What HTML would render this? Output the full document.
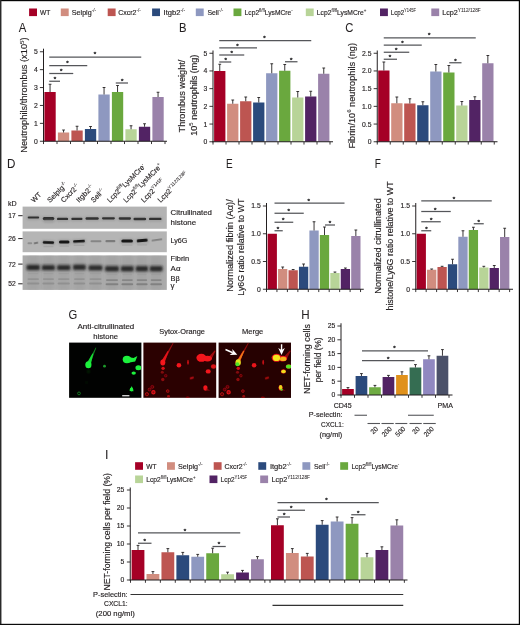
<!DOCTYPE html>
<html lang="en"><head><meta charset="utf-8"><title>Figure</title>
<style>html,body{margin:0;padding:0;background:#fff}svg{display:block}text{font-family:"Liberation Sans", sans-serif;white-space:pre}</style>
</head><body>
<svg width="520" height="625" viewBox="0 0 520 625">
<defs>
<filter id="b1" x="-100%" y="-300%" width="300%" height="700%"><feGaussianBlur stdDeviation="0.9"/></filter>
<filter id="b2" x="-100%" y="-300%" width="300%" height="700%"><feGaussianBlur stdDeviation="1.6"/></filter>
<filter id="b05" x="-100%" y="-300%" width="300%" height="700%"><feGaussianBlur stdDeviation="0.55"/></filter>
<filter id="b3" x="-100%" y="-300%" width="300%" height="700%"><feGaussianBlur stdDeviation="2.6"/></filter>
</defs>
<rect x="0" y="0" width="520" height="625" fill="#ffffff"/>
<rect x="29.10" y="8.50" width="7.90" height="7.60" fill="#a50026"/>
<text transform="translate(39.90 15.00) scale(0.974 1)" font-size="6.80" text-anchor="start" fill="#231f20" stroke="#231f20" stroke-width="0.15">WT</text>
<rect x="60.80" y="8.50" width="7.90" height="7.60" fill="#d18d7f"/>
<text transform="translate(71.80 15.00) scale(1.054 1)" font-size="6.80" text-anchor="start" fill="#231f20" stroke="#231f20" stroke-width="0.15">Selplg<tspan dy="-2.86" font-size="4.49" stroke-width="0.05">-/-</tspan></text>
<rect x="107.70" y="8.50" width="7.90" height="7.60" fill="#bd5551"/>
<text transform="translate(118.20 15.00) scale(1.028 1)" font-size="6.80" text-anchor="start" fill="#231f20" stroke="#231f20" stroke-width="0.15">Cxcr2<tspan dy="-2.86" font-size="4.49" stroke-width="0.05">-/-</tspan></text>
<rect x="152.10" y="8.50" width="7.90" height="7.60" fill="#2b4a7c"/>
<text transform="translate(163.60 15.00) scale(1.116 1)" font-size="6.80" text-anchor="start" fill="#231f20" stroke="#231f20" stroke-width="0.15">Itgb2<tspan dy="-2.86" font-size="4.49" stroke-width="0.05">-/-</tspan></text>
<rect x="195.80" y="8.50" width="7.90" height="7.60" fill="#8e98c0"/>
<text transform="translate(207.40 15.00) scale(1.014 1)" font-size="6.80" text-anchor="start" fill="#231f20" stroke="#231f20" stroke-width="0.15">Sell<tspan dy="-2.86" font-size="4.49" stroke-width="0.05">-/-</tspan></text>
<rect x="233.50" y="8.50" width="7.90" height="7.60" fill="#6aa83e"/>
<text transform="translate(244.60 15.00) scale(0.985 1)" font-size="6.80" text-anchor="start" fill="#231f20" stroke="#231f20" stroke-width="0.15">Lcp2<tspan dy="-2.86" font-size="4.49" stroke-width="0.05">fl/fl</tspan><tspan dy="2.86">LysMCre</tspan><tspan dy="-2.86" font-size="4.49" stroke-width="0.05">-</tspan></text>
<rect x="305.80" y="8.50" width="7.90" height="7.60" fill="#b8d498"/>
<text transform="translate(316.80 15.00) scale(0.993 1)" font-size="6.80" text-anchor="start" fill="#231f20" stroke="#231f20" stroke-width="0.15">Lcp2<tspan dy="-2.86" font-size="4.49" stroke-width="0.05">fl/fl</tspan><tspan dy="2.86">LysMCre</tspan><tspan dy="-2.86" font-size="4.49" stroke-width="0.05">+</tspan></text>
<rect x="380.00" y="8.50" width="7.90" height="7.60" fill="#522364"/>
<text transform="translate(390.70 15.00) scale(0.908 1)" font-size="6.80" text-anchor="start" fill="#231f20" stroke="#231f20" stroke-width="0.15">Lcp2<tspan dy="-2.86" font-size="4.49" stroke-width="0.05">Y145F</tspan></text>
<rect x="431.30" y="8.50" width="7.90" height="7.60" fill="#9a82aa"/>
<text transform="translate(442.30 15.00) scale(1.056 1)" font-size="6.80" text-anchor="start" fill="#231f20" stroke="#231f20" stroke-width="0.15">Lcp2<tspan dy="-2.86" font-size="4.49" stroke-width="0.05">Y112/128F</tspan></text>
<text transform="translate(18.70 32.10) scale(0.910 1)" font-size="12.50" text-anchor="start" fill="#231f20" stroke="#231f20" stroke-width="0.05">A</text>
<text transform="translate(178.90 32.10) scale(0.900 1)" font-size="12.50" text-anchor="start" fill="#231f20" stroke="#231f20" stroke-width="0.05">B</text>
<text transform="translate(345.24 32.20) scale(0.900 1)" font-size="12.50" text-anchor="start" fill="#231f20" stroke="#231f20" stroke-width="0.05">C</text>
<text transform="translate(6.97 168.20) scale(0.930 1)" font-size="12.50" text-anchor="start" fill="#231f20" stroke="#231f20" stroke-width="0.05">D</text>
<text transform="translate(226.10 168.20) scale(0.800 1)" font-size="12.50" text-anchor="start" fill="#231f20" stroke="#231f20" stroke-width="0.05">E</text>
<text transform="translate(374.80 168.20) scale(0.800 1)" font-size="12.50" text-anchor="start" fill="#231f20" stroke="#231f20" stroke-width="0.05">F</text>
<text transform="translate(68.54 319.10) scale(0.900 1)" font-size="12.50" text-anchor="start" fill="#231f20" stroke="#231f20" stroke-width="0.05">G</text>
<text transform="translate(301.37 319.10) scale(0.930 1)" font-size="12.50" text-anchor="start" fill="#231f20" stroke="#231f20" stroke-width="0.05">H</text>
<text transform="translate(104.88 459.00)" font-size="12.50" text-anchor="start" fill="#231f20" stroke="#231f20" stroke-width="0.05">I</text>
<rect x="44.40" y="92.00" width="11.30" height="49.25" fill="#a50026"/>
<line x1="50.05" y1="92.00" x2="50.05" y2="84.25" stroke="#231f20" stroke-width="0.90"/>
<line x1="48.65" y1="84.25" x2="51.45" y2="84.25" stroke="#231f20" stroke-width="0.90"/>
<rect x="57.90" y="132.50" width="11.30" height="8.75" fill="#d18d7f"/>
<line x1="63.55" y1="132.50" x2="63.55" y2="130.00" stroke="#231f20" stroke-width="0.90"/>
<line x1="62.15" y1="130.00" x2="64.95" y2="130.00" stroke="#231f20" stroke-width="0.90"/>
<rect x="71.40" y="130.50" width="11.30" height="10.75" fill="#bd5551"/>
<line x1="77.05" y1="130.50" x2="77.05" y2="126.25" stroke="#231f20" stroke-width="0.90"/>
<line x1="75.65" y1="126.25" x2="78.45" y2="126.25" stroke="#231f20" stroke-width="0.90"/>
<rect x="84.90" y="129.00" width="11.30" height="12.25" fill="#2b4a7c"/>
<line x1="90.55" y1="129.00" x2="90.55" y2="126.50" stroke="#231f20" stroke-width="0.90"/>
<line x1="89.15" y1="126.50" x2="91.95" y2="126.50" stroke="#231f20" stroke-width="0.90"/>
<rect x="98.40" y="94.50" width="11.30" height="46.75" fill="#8e98c0"/>
<line x1="104.05" y1="94.50" x2="104.05" y2="87.50" stroke="#231f20" stroke-width="0.90"/>
<line x1="102.65" y1="87.50" x2="105.45" y2="87.50" stroke="#231f20" stroke-width="0.90"/>
<rect x="111.90" y="92.00" width="11.30" height="49.25" fill="#6aa83e"/>
<line x1="117.55" y1="92.00" x2="117.55" y2="85.50" stroke="#231f20" stroke-width="0.90"/>
<line x1="116.15" y1="85.50" x2="118.95" y2="85.50" stroke="#231f20" stroke-width="0.90"/>
<rect x="125.40" y="129.25" width="11.30" height="12.00" fill="#b8d498"/>
<line x1="131.05" y1="129.25" x2="131.05" y2="125.75" stroke="#231f20" stroke-width="0.90"/>
<line x1="129.65" y1="125.75" x2="132.45" y2="125.75" stroke="#231f20" stroke-width="0.90"/>
<rect x="138.90" y="126.75" width="11.30" height="14.50" fill="#522364"/>
<line x1="144.55" y1="126.75" x2="144.55" y2="123.75" stroke="#231f20" stroke-width="0.90"/>
<line x1="143.15" y1="123.75" x2="145.95" y2="123.75" stroke="#231f20" stroke-width="0.90"/>
<rect x="152.40" y="97.00" width="11.30" height="44.25" fill="#9a82aa"/>
<line x1="158.05" y1="97.00" x2="158.05" y2="92.25" stroke="#231f20" stroke-width="0.90"/>
<line x1="156.65" y1="92.25" x2="159.45" y2="92.25" stroke="#231f20" stroke-width="0.90"/>
<line x1="43.50" y1="48.70" x2="43.50" y2="141.75" stroke="#231f20" stroke-width="1.00"/>
<line x1="43.00" y1="141.25" x2="167.00" y2="141.25" stroke="#231f20" stroke-width="1.00"/>
<line x1="39.90" y1="141.25" x2="43.50" y2="141.25" stroke="#231f20" stroke-width="0.90"/>
<text transform="translate(37.70 143.70)" font-size="6.80" text-anchor="end" fill="#231f20" stroke="#231f20" stroke-width="0.15">0</text>
<line x1="39.90" y1="123.35" x2="43.50" y2="123.35" stroke="#231f20" stroke-width="0.90"/>
<text transform="translate(37.70 125.80)" font-size="6.80" text-anchor="end" fill="#231f20" stroke="#231f20" stroke-width="0.15">1</text>
<line x1="39.90" y1="105.45" x2="43.50" y2="105.45" stroke="#231f20" stroke-width="0.90"/>
<text transform="translate(37.70 107.90)" font-size="6.80" text-anchor="end" fill="#231f20" stroke="#231f20" stroke-width="0.15">2</text>
<line x1="39.90" y1="87.55" x2="43.50" y2="87.55" stroke="#231f20" stroke-width="0.90"/>
<text transform="translate(37.70 90.00)" font-size="6.80" text-anchor="end" fill="#231f20" stroke="#231f20" stroke-width="0.15">3</text>
<line x1="39.90" y1="69.65" x2="43.50" y2="69.65" stroke="#231f20" stroke-width="0.90"/>
<text transform="translate(37.70 72.10)" font-size="6.80" text-anchor="end" fill="#231f20" stroke="#231f20" stroke-width="0.15">4</text>
<line x1="39.90" y1="51.75" x2="43.50" y2="51.75" stroke="#231f20" stroke-width="0.90"/>
<text transform="translate(37.70 54.20)" font-size="6.80" text-anchor="end" fill="#231f20" stroke="#231f20" stroke-width="0.15">5</text>
<line x1="43.50" y1="141.25" x2="43.50" y2="144.05" stroke="#231f20" stroke-width="0.90"/>
<line x1="57.00" y1="141.25" x2="57.00" y2="144.05" stroke="#231f20" stroke-width="0.90"/>
<line x1="70.50" y1="141.25" x2="70.50" y2="144.05" stroke="#231f20" stroke-width="0.90"/>
<line x1="84.00" y1="141.25" x2="84.00" y2="144.05" stroke="#231f20" stroke-width="0.90"/>
<line x1="97.50" y1="141.25" x2="97.50" y2="144.05" stroke="#231f20" stroke-width="0.90"/>
<line x1="111.00" y1="141.25" x2="111.00" y2="144.05" stroke="#231f20" stroke-width="0.90"/>
<line x1="124.50" y1="141.25" x2="124.50" y2="144.05" stroke="#231f20" stroke-width="0.90"/>
<line x1="138.00" y1="141.25" x2="138.00" y2="144.05" stroke="#231f20" stroke-width="0.90"/>
<line x1="151.50" y1="141.25" x2="151.50" y2="144.05" stroke="#231f20" stroke-width="0.90"/>
<line x1="165.00" y1="141.25" x2="165.00" y2="144.05" stroke="#231f20" stroke-width="0.90"/>
<line x1="49.25" y1="57.00" x2="141.25" y2="57.00" stroke="#55565a" stroke-width="1.25"/>
<text transform="translate(95.00 56.36)" font-size="6.20" text-anchor="middle" fill="#3a3a3c" stroke="#3a3a3c" stroke-width="0.55">*</text>
<line x1="49.25" y1="65.50" x2="87.25" y2="65.50" stroke="#55565a" stroke-width="1.25"/>
<text transform="translate(67.50 65.16)" font-size="6.20" text-anchor="middle" fill="#3a3a3c" stroke="#3a3a3c" stroke-width="0.55">*</text>
<line x1="49.25" y1="73.50" x2="73.25" y2="73.50" stroke="#55565a" stroke-width="1.25"/>
<text transform="translate(61.25 73.16)" font-size="6.20" text-anchor="middle" fill="#3a3a3c" stroke="#3a3a3c" stroke-width="0.55">*</text>
<line x1="49.25" y1="81.25" x2="60.00" y2="81.25" stroke="#55565a" stroke-width="1.25"/>
<text transform="translate(55.00 80.86)" font-size="6.20" text-anchor="middle" fill="#3a3a3c" stroke="#3a3a3c" stroke-width="0.55">*</text>
<line x1="115.75" y1="83.00" x2="128.00" y2="83.00" stroke="#55565a" stroke-width="1.25"/>
<text transform="translate(122.25 82.66)" font-size="6.20" text-anchor="middle" fill="#3a3a3c" stroke="#3a3a3c" stroke-width="0.55">*</text>
<text transform="translate(27.20 95.10) rotate(-90) scale(1.134 1)" font-size="8.20" text-anchor="middle" fill="#231f20" stroke="#231f20" stroke-width="0.15">Neutrophils/thrombus (x10<tspan dy="-3.44" font-size="5.41" stroke-width="0.05">5</tspan><tspan dy="3.44">)</tspan></text>
<rect x="214.10" y="71.00" width="11.30" height="70.75" fill="#a50026"/>
<line x1="219.75" y1="71.00" x2="219.75" y2="64.25" stroke="#231f20" stroke-width="0.90"/>
<line x1="218.35" y1="64.25" x2="221.15" y2="64.25" stroke="#231f20" stroke-width="0.90"/>
<rect x="227.10" y="103.75" width="11.30" height="38.00" fill="#d18d7f"/>
<line x1="232.75" y1="103.75" x2="232.75" y2="100.00" stroke="#231f20" stroke-width="0.90"/>
<line x1="231.35" y1="100.00" x2="234.15" y2="100.00" stroke="#231f20" stroke-width="0.90"/>
<rect x="240.10" y="101.25" width="11.30" height="40.50" fill="#bd5551"/>
<line x1="245.75" y1="101.25" x2="245.75" y2="97.00" stroke="#231f20" stroke-width="0.90"/>
<line x1="244.35" y1="97.00" x2="247.15" y2="97.00" stroke="#231f20" stroke-width="0.90"/>
<rect x="253.10" y="102.50" width="11.30" height="39.25" fill="#2b4a7c"/>
<line x1="258.75" y1="102.50" x2="258.75" y2="97.50" stroke="#231f20" stroke-width="0.90"/>
<line x1="257.35" y1="97.50" x2="260.15" y2="97.50" stroke="#231f20" stroke-width="0.90"/>
<rect x="266.10" y="73.25" width="11.30" height="68.50" fill="#8e98c0"/>
<line x1="271.75" y1="73.25" x2="271.75" y2="63.75" stroke="#231f20" stroke-width="0.90"/>
<line x1="270.35" y1="63.75" x2="273.15" y2="63.75" stroke="#231f20" stroke-width="0.90"/>
<rect x="279.10" y="70.75" width="11.30" height="71.00" fill="#6aa83e"/>
<line x1="284.75" y1="70.75" x2="284.75" y2="64.50" stroke="#231f20" stroke-width="0.90"/>
<line x1="283.35" y1="64.50" x2="286.15" y2="64.50" stroke="#231f20" stroke-width="0.90"/>
<rect x="292.10" y="97.50" width="11.30" height="44.25" fill="#b8d498"/>
<line x1="297.75" y1="97.50" x2="297.75" y2="91.50" stroke="#231f20" stroke-width="0.90"/>
<line x1="296.35" y1="91.50" x2="299.15" y2="91.50" stroke="#231f20" stroke-width="0.90"/>
<rect x="305.10" y="96.50" width="11.30" height="45.25" fill="#522364"/>
<line x1="310.75" y1="96.50" x2="310.75" y2="91.25" stroke="#231f20" stroke-width="0.90"/>
<line x1="309.35" y1="91.25" x2="312.15" y2="91.25" stroke="#231f20" stroke-width="0.90"/>
<rect x="318.10" y="73.75" width="11.30" height="68.00" fill="#9a82aa"/>
<line x1="323.75" y1="73.75" x2="323.75" y2="68.00" stroke="#231f20" stroke-width="0.90"/>
<line x1="322.35" y1="68.00" x2="325.15" y2="68.00" stroke="#231f20" stroke-width="0.90"/>
<line x1="213.00" y1="50.50" x2="213.00" y2="142.25" stroke="#231f20" stroke-width="1.00"/>
<line x1="212.50" y1="141.75" x2="333.00" y2="141.75" stroke="#231f20" stroke-width="1.00"/>
<line x1="209.40" y1="141.75" x2="213.00" y2="141.75" stroke="#231f20" stroke-width="0.90"/>
<text transform="translate(207.20 144.20)" font-size="6.80" text-anchor="end" fill="#231f20" stroke="#231f20" stroke-width="0.15">0</text>
<line x1="209.40" y1="124.05" x2="213.00" y2="124.05" stroke="#231f20" stroke-width="0.90"/>
<text transform="translate(207.20 126.50)" font-size="6.80" text-anchor="end" fill="#231f20" stroke="#231f20" stroke-width="0.15">1</text>
<line x1="209.40" y1="106.35" x2="213.00" y2="106.35" stroke="#231f20" stroke-width="0.90"/>
<text transform="translate(207.20 108.80)" font-size="6.80" text-anchor="end" fill="#231f20" stroke="#231f20" stroke-width="0.15">2</text>
<line x1="209.40" y1="88.65" x2="213.00" y2="88.65" stroke="#231f20" stroke-width="0.90"/>
<text transform="translate(207.20 91.10)" font-size="6.80" text-anchor="end" fill="#231f20" stroke="#231f20" stroke-width="0.15">3</text>
<line x1="209.40" y1="70.95" x2="213.00" y2="70.95" stroke="#231f20" stroke-width="0.90"/>
<text transform="translate(207.20 73.40)" font-size="6.80" text-anchor="end" fill="#231f20" stroke="#231f20" stroke-width="0.15">4</text>
<line x1="209.40" y1="53.25" x2="213.00" y2="53.25" stroke="#231f20" stroke-width="0.90"/>
<text transform="translate(207.20 55.70)" font-size="6.80" text-anchor="end" fill="#231f20" stroke="#231f20" stroke-width="0.15">5</text>
<line x1="213.00" y1="141.75" x2="213.00" y2="144.55" stroke="#231f20" stroke-width="0.90"/>
<line x1="226.00" y1="141.75" x2="226.00" y2="144.55" stroke="#231f20" stroke-width="0.90"/>
<line x1="239.00" y1="141.75" x2="239.00" y2="144.55" stroke="#231f20" stroke-width="0.90"/>
<line x1="252.00" y1="141.75" x2="252.00" y2="144.55" stroke="#231f20" stroke-width="0.90"/>
<line x1="265.00" y1="141.75" x2="265.00" y2="144.55" stroke="#231f20" stroke-width="0.90"/>
<line x1="278.00" y1="141.75" x2="278.00" y2="144.55" stroke="#231f20" stroke-width="0.90"/>
<line x1="291.00" y1="141.75" x2="291.00" y2="144.55" stroke="#231f20" stroke-width="0.90"/>
<line x1="304.00" y1="141.75" x2="304.00" y2="144.55" stroke="#231f20" stroke-width="0.90"/>
<line x1="317.00" y1="141.75" x2="317.00" y2="144.55" stroke="#231f20" stroke-width="0.90"/>
<line x1="330.00" y1="141.75" x2="330.00" y2="144.55" stroke="#231f20" stroke-width="0.90"/>
<line x1="219.25" y1="40.50" x2="311.25" y2="40.50" stroke="#55565a" stroke-width="1.25"/>
<text transform="translate(264.50 40.16)" font-size="6.20" text-anchor="middle" fill="#3a3a3c" stroke="#3a3a3c" stroke-width="0.55">*</text>
<line x1="219.25" y1="47.75" x2="257.00" y2="47.75" stroke="#55565a" stroke-width="1.25"/>
<text transform="translate(237.50 47.66)" font-size="6.20" text-anchor="middle" fill="#3a3a3c" stroke="#3a3a3c" stroke-width="0.55">*</text>
<line x1="219.25" y1="55.00" x2="244.25" y2="55.00" stroke="#55565a" stroke-width="1.25"/>
<text transform="translate(231.75 54.91)" font-size="6.20" text-anchor="middle" fill="#3a3a3c" stroke="#3a3a3c" stroke-width="0.55">*</text>
<line x1="219.25" y1="62.00" x2="231.25" y2="62.00" stroke="#55565a" stroke-width="1.25"/>
<text transform="translate(225.75 61.91)" font-size="6.20" text-anchor="middle" fill="#3a3a3c" stroke="#3a3a3c" stroke-width="0.55">*</text>
<line x1="285.00" y1="61.75" x2="297.50" y2="61.75" stroke="#55565a" stroke-width="1.25"/>
<text transform="translate(291.25 61.66)" font-size="6.20" text-anchor="middle" fill="#3a3a3c" stroke="#3a3a3c" stroke-width="0.55">*</text>
<text transform="translate(185.00 96.05) rotate(-90) scale(1.119 1)" font-size="8.20" text-anchor="middle" fill="#231f20" stroke="#231f20" stroke-width="0.15">Thrombus weight/</text>
<text transform="translate(196.50 95.20) rotate(-90) scale(1.102 1)" font-size="8.20" text-anchor="middle" fill="#231f20" stroke="#231f20" stroke-width="0.15">10<tspan dy="-3.44" font-size="5.41" stroke-width="0.05">5</tspan><tspan dy="3.44"> neutrophils (mg)</tspan></text>
<rect x="378.20" y="70.50" width="11.30" height="71.25" fill="#a50026"/>
<line x1="383.85" y1="70.50" x2="383.85" y2="62.00" stroke="#231f20" stroke-width="0.90"/>
<line x1="382.45" y1="62.00" x2="385.25" y2="62.00" stroke="#231f20" stroke-width="0.90"/>
<rect x="391.20" y="103.25" width="11.30" height="38.50" fill="#d18d7f"/>
<line x1="396.85" y1="103.25" x2="396.85" y2="97.00" stroke="#231f20" stroke-width="0.90"/>
<line x1="395.45" y1="97.00" x2="398.25" y2="97.00" stroke="#231f20" stroke-width="0.90"/>
<rect x="404.20" y="103.50" width="11.30" height="38.25" fill="#bd5551"/>
<line x1="409.85" y1="103.50" x2="409.85" y2="98.75" stroke="#231f20" stroke-width="0.90"/>
<line x1="408.45" y1="98.75" x2="411.25" y2="98.75" stroke="#231f20" stroke-width="0.90"/>
<rect x="417.20" y="105.25" width="11.30" height="36.50" fill="#2b4a7c"/>
<line x1="422.85" y1="105.25" x2="422.85" y2="101.75" stroke="#231f20" stroke-width="0.90"/>
<line x1="421.45" y1="101.75" x2="424.25" y2="101.75" stroke="#231f20" stroke-width="0.90"/>
<rect x="430.20" y="71.50" width="11.30" height="70.25" fill="#8e98c0"/>
<line x1="435.85" y1="71.50" x2="435.85" y2="64.50" stroke="#231f20" stroke-width="0.90"/>
<line x1="434.45" y1="64.50" x2="437.25" y2="64.50" stroke="#231f20" stroke-width="0.90"/>
<rect x="443.20" y="72.50" width="11.30" height="69.25" fill="#6aa83e"/>
<line x1="448.85" y1="72.50" x2="448.85" y2="65.50" stroke="#231f20" stroke-width="0.90"/>
<line x1="447.45" y1="65.50" x2="450.25" y2="65.50" stroke="#231f20" stroke-width="0.90"/>
<rect x="456.20" y="105.50" width="11.30" height="36.25" fill="#b8d498"/>
<line x1="461.85" y1="105.50" x2="461.85" y2="101.50" stroke="#231f20" stroke-width="0.90"/>
<line x1="460.45" y1="101.50" x2="463.25" y2="101.50" stroke="#231f20" stroke-width="0.90"/>
<rect x="469.20" y="100.00" width="11.30" height="41.75" fill="#522364"/>
<line x1="474.85" y1="100.00" x2="474.85" y2="96.75" stroke="#231f20" stroke-width="0.90"/>
<line x1="473.45" y1="96.75" x2="476.25" y2="96.75" stroke="#231f20" stroke-width="0.90"/>
<rect x="482.20" y="63.25" width="11.30" height="78.50" fill="#9a82aa"/>
<line x1="487.85" y1="63.25" x2="487.85" y2="55.50" stroke="#231f20" stroke-width="0.90"/>
<line x1="486.45" y1="55.50" x2="489.25" y2="55.50" stroke="#231f20" stroke-width="0.90"/>
<line x1="377.25" y1="50.50" x2="377.25" y2="142.25" stroke="#231f20" stroke-width="1.00"/>
<line x1="376.75" y1="141.75" x2="497.50" y2="141.75" stroke="#231f20" stroke-width="1.00"/>
<line x1="373.65" y1="141.75" x2="377.25" y2="141.75" stroke="#231f20" stroke-width="0.90"/>
<text transform="translate(371.45 144.20)" font-size="6.80" text-anchor="end" fill="#231f20" stroke="#231f20" stroke-width="0.15">0</text>
<line x1="373.65" y1="124.05" x2="377.25" y2="124.05" stroke="#231f20" stroke-width="0.90"/>
<text transform="translate(371.45 126.50)" font-size="6.80" text-anchor="end" fill="#231f20" stroke="#231f20" stroke-width="0.15">0.5</text>
<line x1="373.65" y1="106.35" x2="377.25" y2="106.35" stroke="#231f20" stroke-width="0.90"/>
<text transform="translate(371.45 108.80)" font-size="6.80" text-anchor="end" fill="#231f20" stroke="#231f20" stroke-width="0.15">1.0</text>
<line x1="373.65" y1="88.65" x2="377.25" y2="88.65" stroke="#231f20" stroke-width="0.90"/>
<text transform="translate(371.45 91.10)" font-size="6.80" text-anchor="end" fill="#231f20" stroke="#231f20" stroke-width="0.15">1.5</text>
<line x1="373.65" y1="70.95" x2="377.25" y2="70.95" stroke="#231f20" stroke-width="0.90"/>
<text transform="translate(371.45 73.40)" font-size="6.80" text-anchor="end" fill="#231f20" stroke="#231f20" stroke-width="0.15">2.0</text>
<line x1="373.65" y1="53.25" x2="377.25" y2="53.25" stroke="#231f20" stroke-width="0.90"/>
<text transform="translate(371.45 55.70)" font-size="6.80" text-anchor="end" fill="#231f20" stroke="#231f20" stroke-width="0.15">2.5</text>
<line x1="377.25" y1="141.75" x2="377.25" y2="144.55" stroke="#231f20" stroke-width="0.90"/>
<line x1="390.25" y1="141.75" x2="390.25" y2="144.55" stroke="#231f20" stroke-width="0.90"/>
<line x1="403.25" y1="141.75" x2="403.25" y2="144.55" stroke="#231f20" stroke-width="0.90"/>
<line x1="416.25" y1="141.75" x2="416.25" y2="144.55" stroke="#231f20" stroke-width="0.90"/>
<line x1="429.25" y1="141.75" x2="429.25" y2="144.55" stroke="#231f20" stroke-width="0.90"/>
<line x1="442.25" y1="141.75" x2="442.25" y2="144.55" stroke="#231f20" stroke-width="0.90"/>
<line x1="455.25" y1="141.75" x2="455.25" y2="144.55" stroke="#231f20" stroke-width="0.90"/>
<line x1="468.25" y1="141.75" x2="468.25" y2="144.55" stroke="#231f20" stroke-width="0.90"/>
<line x1="481.25" y1="141.75" x2="481.25" y2="144.55" stroke="#231f20" stroke-width="0.90"/>
<line x1="494.25" y1="141.75" x2="494.25" y2="144.55" stroke="#231f20" stroke-width="0.90"/>
<line x1="383.75" y1="37.75" x2="475.75" y2="37.75" stroke="#55565a" stroke-width="1.25"/>
<text transform="translate(429.25 37.41)" font-size="6.20" text-anchor="middle" fill="#3a3a3c" stroke="#3a3a3c" stroke-width="0.55">*</text>
<line x1="383.75" y1="45.00" x2="421.75" y2="45.00" stroke="#55565a" stroke-width="1.25"/>
<text transform="translate(402.50 44.66)" font-size="6.20" text-anchor="middle" fill="#3a3a3c" stroke="#3a3a3c" stroke-width="0.55">*</text>
<line x1="383.75" y1="52.25" x2="409.25" y2="52.25" stroke="#55565a" stroke-width="1.25"/>
<text transform="translate(396.25 51.91)" font-size="6.20" text-anchor="middle" fill="#3a3a3c" stroke="#3a3a3c" stroke-width="0.55">*</text>
<line x1="383.75" y1="59.25" x2="397.00" y2="59.25" stroke="#55565a" stroke-width="1.25"/>
<text transform="translate(390.00 58.91)" font-size="6.20" text-anchor="middle" fill="#3a3a3c" stroke="#3a3a3c" stroke-width="0.55">*</text>
<line x1="449.25" y1="62.75" x2="461.50" y2="62.75" stroke="#55565a" stroke-width="1.25"/>
<text transform="translate(455.50 62.66)" font-size="6.20" text-anchor="middle" fill="#3a3a3c" stroke="#3a3a3c" stroke-width="0.55">*</text>
<text transform="translate(354.60 95.80) rotate(-90) scale(1.123 1)" font-size="8.20" text-anchor="middle" fill="#231f20" stroke="#231f20" stroke-width="0.15">Fibrin/10<tspan dy="-3.44" font-size="5.41" stroke-width="0.05">6</tspan><tspan dy="3.44"> neutrophils (ng)</tspan></text>
<clipPath id="cb1"><rect x="22.60" y="206.60" width="144.20" height="22.20"/></clipPath>
<rect x="22.60" y="206.60" width="144.20" height="22.20" fill="#b3b3b3"/>
<g clip-path="url(#cb1)">
<rect x="26.70" y="215.40" width="13.50" height="4.80" rx="1.60" fill="#9c9c9c" opacity="0.80" filter="url(#b1)"/>
<rect x="27.70" y="216.40" width="11.50" height="2.20" rx="1.10" fill="#303030" opacity="1.00" filter="url(#b05)"/>
<rect x="41.80" y="216.05" width="13.50" height="5.70" rx="1.60" fill="#9c9c9c" opacity="0.80" filter="url(#b1)"/>
<rect x="42.80" y="217.05" width="11.50" height="3.10" rx="1.55" fill="#303030" opacity="1.00" filter="url(#b05)"/>
<rect x="56.00" y="216.70" width="13.10" height="5.00" rx="1.60" fill="#9c9c9c" opacity="0.80" filter="url(#b1)"/>
<rect x="57.00" y="217.70" width="11.10" height="2.40" rx="1.20" fill="#303030" opacity="1.00" filter="url(#b05)"/>
<rect x="70.30" y="216.85" width="13.20" height="4.70" rx="1.60" fill="#9c9c9c" opacity="0.80" filter="url(#b1)"/>
<rect x="71.30" y="217.85" width="11.20" height="2.10" rx="1.05" fill="#303030" opacity="1.00" filter="url(#b05)"/>
<rect x="84.50" y="216.25" width="15.20" height="5.10" rx="1.60" fill="#9c9c9c" opacity="0.80" filter="url(#b1)"/>
<rect x="85.50" y="217.25" width="13.20" height="2.50" rx="1.25" fill="#303030" opacity="1.00" filter="url(#b05)"/>
<rect x="101.00" y="216.20" width="14.90" height="4.80" rx="1.60" fill="#9c9c9c" opacity="0.80" filter="url(#b1)"/>
<rect x="102.00" y="217.20" width="12.90" height="2.20" rx="1.10" fill="#303030" opacity="1.00" filter="url(#b05)"/>
<rect x="117.70" y="216.35" width="14.30" height="4.90" rx="1.60" fill="#9c9c9c" opacity="0.80" filter="url(#b1)"/>
<rect x="118.70" y="217.35" width="12.30" height="2.30" rx="1.15" fill="#303030" opacity="1.00" filter="url(#b05)"/>
<rect x="132.50" y="216.65" width="14.60" height="5.10" rx="1.60" fill="#9c9c9c" opacity="0.80" filter="url(#b1)"/>
<rect x="133.50" y="217.65" width="12.60" height="2.50" rx="1.25" fill="#303030" opacity="1.00" filter="url(#b05)"/>
<rect x="148.00" y="216.70" width="14.50" height="5.00" rx="1.60" fill="#9c9c9c" opacity="0.80" filter="url(#b1)"/>
<rect x="149.00" y="217.70" width="12.50" height="2.40" rx="1.20" fill="#303030" opacity="1.00" filter="url(#b05)"/>
<rect x="44.00" y="220.35" width="10.00" height="2.50" rx="1.25" fill="#9a9a9a" opacity="0.70" filter="url(#b1)"/>
</g>
<clipPath id="cb2"><rect x="22.60" y="231.40" width="144.20" height="20.80"/></clipPath>
<rect x="22.60" y="231.40" width="144.20" height="20.80" fill="#b5b5b5"/>
<g clip-path="url(#cb2)">
<rect x="27.50" y="242.20" width="4.70" height="2.00" rx="1.00" fill="#8a8a8a" opacity="0.90" filter="url(#b05)"/>
<rect x="33.60" y="241.95" width="4.80" height="2.10" rx="1.05" fill="#767676" opacity="0.95" filter="url(#b05)" transform="rotate(-12.00 36.00 243.00)"/>
<rect x="90.50" y="240.15" width="11.00" height="2.10" rx="1.05" fill="#808080" opacity="0.90" filter="url(#b05)"/>
<rect x="105.40" y="240.10" width="10.00" height="2.20" rx="1.10" fill="#787878" opacity="0.95" filter="url(#b05)"/>
<rect x="151.50" y="238.95" width="10.80" height="1.90" rx="0.95" fill="#7c7c7c" opacity="0.95" filter="url(#b05)" transform="rotate(-8.00 156.90 239.90)"/>
<rect x="41.80" y="240.30" width="13.30" height="4.80" rx="1.60" fill="#9a9a9a" opacity="0.80" filter="url(#b1)" transform="rotate(2.00 48.45 242.70)"/>
<rect x="42.80" y="241.20" width="11.30" height="2.60" rx="1.30" fill="#141414" opacity="1.00" filter="url(#b05)" transform="rotate(2.00 48.45 242.50)"/>
<rect x="43.30" y="246.10" width="10.30" height="1.20" rx="0.60" fill="#a2a2a2" opacity="0.80" filter="url(#b05)"/>
<rect x="58.00" y="239.60" width="12.50" height="5.20" rx="1.60" fill="#9a9a9a" opacity="0.80" filter="url(#b1)"/>
<rect x="59.00" y="240.50" width="10.50" height="3.00" rx="1.50" fill="#141414" opacity="1.00" filter="url(#b05)"/>
<rect x="59.50" y="245.60" width="9.50" height="1.20" rx="0.60" fill="#a2a2a2" opacity="0.80" filter="url(#b05)"/>
<rect x="72.10" y="239.00" width="13.80" height="4.80" rx="1.60" fill="#9a9a9a" opacity="0.80" filter="url(#b1)" transform="rotate(-3.00 79.00 241.40)"/>
<rect x="73.10" y="239.90" width="11.80" height="2.60" rx="1.30" fill="#141414" opacity="1.00" filter="url(#b05)" transform="rotate(-3.00 79.00 241.20)"/>
<rect x="73.60" y="244.80" width="10.80" height="1.20" rx="0.60" fill="#a2a2a2" opacity="0.80" filter="url(#b05)"/>
<rect x="120.30" y="238.50" width="13.60" height="5.40" rx="1.60" fill="#9a9a9a" opacity="0.80" filter="url(#b1)"/>
<rect x="121.30" y="239.40" width="11.60" height="3.20" rx="1.60" fill="#141414" opacity="1.00" filter="url(#b05)"/>
<rect x="121.80" y="244.60" width="10.60" height="1.20" rx="0.60" fill="#a2a2a2" opacity="0.80" filter="url(#b05)"/>
<rect x="135.70" y="238.20" width="13.00" height="5.20" rx="1.60" fill="#9a9a9a" opacity="0.80" filter="url(#b1)" transform="rotate(-5.00 142.20 240.80)"/>
<rect x="136.70" y="239.10" width="11.00" height="3.00" rx="1.50" fill="#141414" opacity="1.00" filter="url(#b05)" transform="rotate(-5.00 142.20 240.60)"/>
<rect x="137.20" y="244.20" width="10.00" height="1.20" rx="0.60" fill="#a2a2a2" opacity="0.80" filter="url(#b05)"/>
</g>
<clipPath id="cb3"><rect x="22.60" y="255.40" width="144.20" height="34.50"/></clipPath>
<rect x="22.60" y="255.40" width="144.20" height="34.50" fill="#ababab"/>
<g clip-path="url(#cb3)">
<rect x="28.00" y="255" width="10.50" height="36" fill="#a0a0a0" opacity="0.6" filter="url(#b2)"/>
<rect x="25.70" y="263.60" width="15.10" height="7.60" rx="1.60" fill="#8a8a8a" opacity="0.85" filter="url(#b1)"/>
<rect x="26.70" y="265.05" width="13.10" height="4.90" rx="1.60" fill="#2c2c2c" opacity="1.00" filter="url(#b1)"/>
<rect x="28.00" y="272.80" width="10.50" height="1.40" rx="0.70" fill="#9a9a9a" opacity="0.60" filter="url(#b05)"/>
<rect x="27.50" y="278.15" width="11.50" height="1.90" rx="0.95" fill="#858585" opacity="0.55" filter="url(#b05)"/>
<rect x="27.10" y="282.55" width="12.30" height="1.90" rx="0.95" fill="#808080" opacity="0.55" filter="url(#b05)"/>
<rect x="43.30" y="255" width="10.20" height="36" fill="#a0a0a0" opacity="0.6" filter="url(#b2)"/>
<rect x="41.00" y="263.70" width="14.80" height="7.60" rx="1.60" fill="#8a8a8a" opacity="0.85" filter="url(#b1)"/>
<rect x="42.00" y="265.15" width="12.80" height="4.90" rx="1.60" fill="#2c2c2c" opacity="1.00" filter="url(#b1)"/>
<rect x="43.30" y="272.80" width="10.20" height="1.40" rx="0.70" fill="#9a9a9a" opacity="0.60" filter="url(#b05)"/>
<rect x="42.80" y="278.15" width="11.20" height="1.90" rx="0.95" fill="#858585" opacity="0.55" filter="url(#b05)"/>
<rect x="42.40" y="282.55" width="12.00" height="1.90" rx="0.95" fill="#808080" opacity="0.55" filter="url(#b05)"/>
<rect x="58.50" y="255" width="10.50" height="36" fill="#a0a0a0" opacity="0.6" filter="url(#b2)"/>
<rect x="56.20" y="263.70" width="15.10" height="7.60" rx="1.60" fill="#8a8a8a" opacity="0.85" filter="url(#b1)"/>
<rect x="57.20" y="265.15" width="13.10" height="4.90" rx="1.60" fill="#2c2c2c" opacity="1.00" filter="url(#b1)"/>
<rect x="58.50" y="272.80" width="10.50" height="1.40" rx="0.70" fill="#9a9a9a" opacity="0.60" filter="url(#b05)"/>
<rect x="58.00" y="278.15" width="11.50" height="1.90" rx="0.95" fill="#858585" opacity="0.55" filter="url(#b05)"/>
<rect x="57.60" y="282.55" width="12.30" height="1.90" rx="0.95" fill="#808080" opacity="0.55" filter="url(#b05)"/>
<rect x="74.50" y="255" width="9.80" height="36" fill="#a0a0a0" opacity="0.6" filter="url(#b2)"/>
<rect x="72.20" y="263.40" width="14.40" height="7.60" rx="1.60" fill="#8a8a8a" opacity="0.85" filter="url(#b1)"/>
<rect x="73.20" y="264.85" width="12.40" height="4.90" rx="1.60" fill="#2c2c2c" opacity="1.00" filter="url(#b1)"/>
<rect x="74.50" y="272.80" width="9.80" height="1.40" rx="0.70" fill="#9a9a9a" opacity="0.60" filter="url(#b05)"/>
<rect x="74.00" y="278.15" width="10.80" height="1.90" rx="0.95" fill="#858585" opacity="0.55" filter="url(#b05)"/>
<rect x="73.60" y="282.55" width="11.60" height="1.90" rx="0.95" fill="#808080" opacity="0.55" filter="url(#b05)"/>
<rect x="90.00" y="255" width="11.00" height="36" fill="#a0a0a0" opacity="0.6" filter="url(#b2)"/>
<rect x="87.70" y="264.00" width="15.60" height="7.60" rx="1.60" fill="#8a8a8a" opacity="0.85" filter="url(#b1)"/>
<rect x="88.70" y="265.45" width="13.60" height="4.90" rx="1.60" fill="#2c2c2c" opacity="1.00" filter="url(#b1)"/>
<rect x="90.00" y="272.80" width="11.00" height="1.40" rx="0.70" fill="#9a9a9a" opacity="0.60" filter="url(#b05)"/>
<rect x="89.50" y="278.15" width="12.00" height="1.90" rx="0.95" fill="#858585" opacity="0.55" filter="url(#b05)"/>
<rect x="89.10" y="282.55" width="12.80" height="1.90" rx="0.95" fill="#808080" opacity="0.55" filter="url(#b05)"/>
<rect x="106.50" y="255" width="11.00" height="36" fill="#a0a0a0" opacity="0.6" filter="url(#b2)"/>
<rect x="104.20" y="264.80" width="15.60" height="7.60" rx="1.60" fill="#8a8a8a" opacity="0.85" filter="url(#b1)"/>
<rect x="105.20" y="266.25" width="13.60" height="4.90" rx="1.60" fill="#2c2c2c" opacity="1.00" filter="url(#b1)"/>
<rect x="106.50" y="273.80" width="11.00" height="1.40" rx="0.70" fill="#9a9a9a" opacity="0.60" filter="url(#b05)"/>
<rect x="106.00" y="279.15" width="12.00" height="1.90" rx="0.95" fill="#858585" opacity="0.95" filter="url(#b05)"/>
<rect x="105.60" y="283.35" width="12.80" height="1.90" rx="0.95" fill="#808080" opacity="0.95" filter="url(#b05)"/>
<rect x="122.30" y="255" width="10.00" height="36" fill="#a0a0a0" opacity="0.6" filter="url(#b2)"/>
<rect x="120.00" y="264.80" width="14.60" height="7.60" rx="1.60" fill="#8a8a8a" opacity="0.85" filter="url(#b1)"/>
<rect x="121.00" y="266.25" width="12.60" height="4.90" rx="1.60" fill="#2c2c2c" opacity="1.00" filter="url(#b1)"/>
<rect x="122.30" y="273.80" width="10.00" height="1.40" rx="0.70" fill="#9a9a9a" opacity="0.60" filter="url(#b05)"/>
<rect x="121.80" y="279.15" width="11.00" height="1.90" rx="0.95" fill="#858585" opacity="0.95" filter="url(#b05)"/>
<rect x="121.40" y="283.35" width="11.80" height="1.90" rx="0.95" fill="#808080" opacity="0.95" filter="url(#b05)"/>
<rect x="137.20" y="255" width="9.50" height="36" fill="#a0a0a0" opacity="0.6" filter="url(#b2)"/>
<rect x="134.90" y="264.80" width="14.10" height="7.60" rx="1.60" fill="#8a8a8a" opacity="0.85" filter="url(#b1)"/>
<rect x="135.90" y="266.25" width="12.10" height="4.90" rx="1.60" fill="#2c2c2c" opacity="1.00" filter="url(#b1)"/>
<rect x="137.20" y="273.80" width="9.50" height="1.40" rx="0.70" fill="#9a9a9a" opacity="0.60" filter="url(#b05)"/>
<rect x="136.70" y="279.15" width="10.50" height="1.90" rx="0.95" fill="#858585" opacity="0.95" filter="url(#b05)"/>
<rect x="136.30" y="283.35" width="11.30" height="1.90" rx="0.95" fill="#808080" opacity="0.95" filter="url(#b05)"/>
<rect x="151.20" y="255" width="9.90" height="36" fill="#a0a0a0" opacity="0.6" filter="url(#b2)"/>
<rect x="148.90" y="264.80" width="14.50" height="7.60" rx="1.60" fill="#8a8a8a" opacity="0.85" filter="url(#b1)"/>
<rect x="149.90" y="266.25" width="12.50" height="4.90" rx="1.60" fill="#2c2c2c" opacity="1.00" filter="url(#b1)"/>
<rect x="151.20" y="273.80" width="9.90" height="1.40" rx="0.70" fill="#9a9a9a" opacity="0.60" filter="url(#b05)"/>
<rect x="150.70" y="279.15" width="10.90" height="1.90" rx="0.95" fill="#858585" opacity="0.95" filter="url(#b05)"/>
<rect x="150.30" y="283.35" width="11.70" height="1.90" rx="0.95" fill="#808080" opacity="0.95" filter="url(#b05)"/>
</g>
<text transform="translate(8.00 205.50) scale(0.989 1)" font-size="7.20" text-anchor="start" fill="#231f20" stroke="#231f20" stroke-width="0.15">kD</text>
<text transform="translate(8.30 218.30) scale(0.963 1)" font-size="7.00" text-anchor="start" fill="#231f20" stroke="#231f20" stroke-width="0.15">17</text>
<line x1="18.20" y1="215.70" x2="22.60" y2="215.70" stroke="#231f20" stroke-width="1.00"/>
<text transform="translate(8.30 241.20) scale(0.963 1)" font-size="7.00" text-anchor="start" fill="#231f20" stroke="#231f20" stroke-width="0.15">26</text>
<line x1="18.20" y1="238.60" x2="22.60" y2="238.60" stroke="#231f20" stroke-width="1.00"/>
<text transform="translate(8.30 266.70) scale(0.963 1)" font-size="7.00" text-anchor="start" fill="#231f20" stroke="#231f20" stroke-width="0.15">72</text>
<line x1="18.20" y1="264.10" x2="22.60" y2="264.10" stroke="#231f20" stroke-width="1.00"/>
<text transform="translate(8.30 286.40) scale(0.963 1)" font-size="7.00" text-anchor="start" fill="#231f20" stroke="#231f20" stroke-width="0.15">52</text>
<line x1="18.20" y1="283.80" x2="22.60" y2="283.80" stroke="#231f20" stroke-width="1.00"/>
<text transform="translate(170.60 215.20) scale(1.089 1)" font-size="7.20" text-anchor="start" fill="#231f20" stroke="#231f20" stroke-width="0.15">Citrullinated</text>
<text transform="translate(170.60 224.60) scale(1.103 1)" font-size="7.20" text-anchor="start" fill="#231f20" stroke="#231f20" stroke-width="0.15">histone</text>
<text transform="translate(170.60 243.30) scale(0.992 1)" font-size="7.20" text-anchor="start" fill="#231f20" stroke="#231f20" stroke-width="0.15">Ly6G</text>
<text transform="translate(170.60 260.80) scale(1.033 1)" font-size="7.20" text-anchor="start" fill="#231f20" stroke="#231f20" stroke-width="0.15">Fibrin</text>
<text transform="translate(170.60 271.10) scale(1.104 1)" font-size="7.20" text-anchor="start" fill="#231f20" stroke="#231f20" stroke-width="0.15">Aα</text>
<text transform="translate(170.60 280.50) scale(1.029 1)" font-size="7.20" text-anchor="start" fill="#231f20" stroke="#231f20" stroke-width="0.15">Bβ</text>
<text transform="translate(170.60 288.10) scale(1.111 1)" font-size="7.20" text-anchor="start" fill="#231f20" stroke="#231f20" stroke-width="0.15">γ</text>
<text transform="translate(34.10 202.90) rotate(-45) scale(0.974 1)" font-size="7.20" text-anchor="start" fill="#231f20" stroke="#231f20" stroke-width="0.15">WT</text>
<text transform="translate(50.10 202.90) rotate(-45) scale(1.020 1)" font-size="7.20" text-anchor="start" fill="#231f20" stroke="#231f20" stroke-width="0.15">Selplg<tspan dy="-3.02" font-size="4.75" stroke-width="0.05">-/-</tspan></text>
<text transform="translate(63.80 202.90) rotate(-45) scale(0.979 1)" font-size="7.20" text-anchor="start" fill="#231f20" stroke="#231f20" stroke-width="0.15">Cxcr2<tspan dy="-3.02" font-size="4.75" stroke-width="0.05">-/-</tspan></text>
<text transform="translate(79.00 202.90) rotate(-45) scale(1.054 1)" font-size="7.20" text-anchor="start" fill="#231f20" stroke="#231f20" stroke-width="0.15">Itgb2<tspan dy="-3.02" font-size="4.75" stroke-width="0.05">-/-</tspan></text>
<text transform="translate(93.70 202.90) rotate(-45) scale(0.970 1)" font-size="7.20" text-anchor="start" fill="#231f20" stroke="#231f20" stroke-width="0.15">Sell<tspan dy="-3.02" font-size="4.75" stroke-width="0.05">-/-</tspan></text>
<text transform="translate(109.90 202.90) rotate(-45) scale(0.984 1)" font-size="7.20" text-anchor="start" fill="#231f20" stroke="#231f20" stroke-width="0.15">Lcp2<tspan dy="-3.02" font-size="4.75" stroke-width="0.05">fl/fl</tspan><tspan dy="3.02">LysMCre</tspan><tspan dy="-3.02" font-size="4.75" stroke-width="0.05">-</tspan></text>
<text transform="translate(126.20 202.90) rotate(-45) scale(0.972 1)" font-size="7.20" text-anchor="start" fill="#231f20" stroke="#231f20" stroke-width="0.15">Lcp2<tspan dy="-3.02" font-size="4.75" stroke-width="0.05">fl/fl</tspan><tspan dy="3.02">LysMCre</tspan><tspan dy="-3.02" font-size="4.75" stroke-width="0.05">+</tspan></text>
<text transform="translate(143.90 202.90) rotate(-45) scale(1.013 1)" font-size="7.20" text-anchor="start" fill="#231f20" stroke="#231f20" stroke-width="0.15">Lcp2<tspan dy="-3.02" font-size="4.75" stroke-width="0.05">Y145F</tspan></text>
<text transform="translate(160.60 202.90) rotate(-45) scale(1.031 1)" font-size="7.20" text-anchor="start" fill="#231f20" stroke="#231f20" stroke-width="0.15">Lcp2<tspan dy="-3.02" font-size="4.75" stroke-width="0.05">Y112/128F</tspan></text>
<rect x="267.60" y="233.75" width="9.30" height="55.50" fill="#a50026"/>
<rect x="278.05" y="269.00" width="9.30" height="20.25" fill="#d18d7f"/>
<line x1="282.70" y1="269.00" x2="282.70" y2="267.00" stroke="#231f20" stroke-width="0.90"/>
<line x1="281.30" y1="267.00" x2="284.10" y2="267.00" stroke="#231f20" stroke-width="0.90"/>
<rect x="288.50" y="270.25" width="9.30" height="19.00" fill="#bd5551"/>
<line x1="293.15" y1="270.25" x2="293.15" y2="269.50" stroke="#231f20" stroke-width="0.90"/>
<line x1="291.75" y1="269.50" x2="294.55" y2="269.50" stroke="#231f20" stroke-width="0.90"/>
<rect x="298.95" y="266.75" width="9.30" height="22.50" fill="#2b4a7c"/>
<line x1="303.60" y1="266.75" x2="303.60" y2="264.00" stroke="#231f20" stroke-width="0.90"/>
<line x1="302.20" y1="264.00" x2="305.00" y2="264.00" stroke="#231f20" stroke-width="0.90"/>
<rect x="309.40" y="230.50" width="9.30" height="58.75" fill="#8e98c0"/>
<line x1="314.05" y1="230.50" x2="314.05" y2="221.75" stroke="#231f20" stroke-width="0.90"/>
<line x1="312.65" y1="221.75" x2="315.45" y2="221.75" stroke="#231f20" stroke-width="0.90"/>
<rect x="319.85" y="235.00" width="9.30" height="54.25" fill="#6aa83e"/>
<line x1="324.50" y1="235.00" x2="324.50" y2="227.00" stroke="#231f20" stroke-width="0.90"/>
<line x1="323.10" y1="227.00" x2="325.90" y2="227.00" stroke="#231f20" stroke-width="0.90"/>
<rect x="330.30" y="273.00" width="9.30" height="16.25" fill="#b8d498"/>
<line x1="334.95" y1="273.00" x2="334.95" y2="272.00" stroke="#231f20" stroke-width="0.90"/>
<line x1="333.55" y1="272.00" x2="336.35" y2="272.00" stroke="#231f20" stroke-width="0.90"/>
<rect x="340.75" y="269.00" width="9.30" height="20.25" fill="#522364"/>
<line x1="345.40" y1="269.00" x2="345.40" y2="268.00" stroke="#231f20" stroke-width="0.90"/>
<line x1="344.00" y1="268.00" x2="346.80" y2="268.00" stroke="#231f20" stroke-width="0.90"/>
<rect x="351.20" y="236.00" width="9.30" height="53.25" fill="#9a82aa"/>
<line x1="355.85" y1="236.00" x2="355.85" y2="230.00" stroke="#231f20" stroke-width="0.90"/>
<line x1="354.45" y1="230.00" x2="357.25" y2="230.00" stroke="#231f20" stroke-width="0.90"/>
<line x1="266.50" y1="203.00" x2="266.50" y2="289.75" stroke="#231f20" stroke-width="1.00"/>
<line x1="266.00" y1="289.25" x2="363.75" y2="289.25" stroke="#231f20" stroke-width="1.00"/>
<line x1="262.90" y1="289.25" x2="266.50" y2="289.25" stroke="#231f20" stroke-width="0.90"/>
<text transform="translate(260.70 291.70)" font-size="6.80" text-anchor="end" fill="#231f20" stroke="#231f20" stroke-width="0.15">0</text>
<line x1="262.90" y1="261.50" x2="266.50" y2="261.50" stroke="#231f20" stroke-width="0.90"/>
<text transform="translate(260.70 263.95)" font-size="6.80" text-anchor="end" fill="#231f20" stroke="#231f20" stroke-width="0.15">0.5</text>
<line x1="262.90" y1="233.75" x2="266.50" y2="233.75" stroke="#231f20" stroke-width="0.90"/>
<text transform="translate(260.70 236.20)" font-size="6.80" text-anchor="end" fill="#231f20" stroke="#231f20" stroke-width="0.15">1.0</text>
<line x1="262.90" y1="206.00" x2="266.50" y2="206.00" stroke="#231f20" stroke-width="0.90"/>
<text transform="translate(260.70 208.45)" font-size="6.80" text-anchor="end" fill="#231f20" stroke="#231f20" stroke-width="0.15">1.5</text>
<line x1="266.50" y1="289.25" x2="266.50" y2="292.05" stroke="#231f20" stroke-width="0.90"/>
<line x1="276.95" y1="289.25" x2="276.95" y2="292.05" stroke="#231f20" stroke-width="0.90"/>
<line x1="287.40" y1="289.25" x2="287.40" y2="292.05" stroke="#231f20" stroke-width="0.90"/>
<line x1="297.85" y1="289.25" x2="297.85" y2="292.05" stroke="#231f20" stroke-width="0.90"/>
<line x1="308.30" y1="289.25" x2="308.30" y2="292.05" stroke="#231f20" stroke-width="0.90"/>
<line x1="318.75" y1="289.25" x2="318.75" y2="292.05" stroke="#231f20" stroke-width="0.90"/>
<line x1="329.20" y1="289.25" x2="329.20" y2="292.05" stroke="#231f20" stroke-width="0.90"/>
<line x1="339.65" y1="289.25" x2="339.65" y2="292.05" stroke="#231f20" stroke-width="0.90"/>
<line x1="350.10" y1="289.25" x2="350.10" y2="292.05" stroke="#231f20" stroke-width="0.90"/>
<line x1="360.55" y1="289.25" x2="360.55" y2="292.05" stroke="#231f20" stroke-width="0.90"/>
<line x1="274.50" y1="203.00" x2="344.50" y2="203.00" stroke="#55565a" stroke-width="1.25"/>
<text transform="translate(308.75 203.16)" font-size="6.20" text-anchor="middle" fill="#3a3a3c" stroke="#3a3a3c" stroke-width="0.55">*</text>
<line x1="274.50" y1="213.25" x2="303.75" y2="213.25" stroke="#55565a" stroke-width="1.25"/>
<text transform="translate(288.75 212.86)" font-size="6.20" text-anchor="middle" fill="#3a3a3c" stroke="#3a3a3c" stroke-width="0.55">*</text>
<line x1="274.50" y1="222.25" x2="293.25" y2="222.25" stroke="#55565a" stroke-width="1.25"/>
<text transform="translate(283.25 222.41)" font-size="6.20" text-anchor="middle" fill="#3a3a3c" stroke="#3a3a3c" stroke-width="0.55">*</text>
<line x1="274.50" y1="230.75" x2="282.75" y2="230.75" stroke="#55565a" stroke-width="1.25"/>
<text transform="translate(278.00 231.16)" font-size="6.20" text-anchor="middle" fill="#3a3a3c" stroke="#3a3a3c" stroke-width="0.55">*</text>
<line x1="325.00" y1="225.00" x2="335.00" y2="225.00" stroke="#55565a" stroke-width="1.25"/>
<text transform="translate(330.00 224.91)" font-size="6.20" text-anchor="middle" fill="#3a3a3c" stroke="#3a3a3c" stroke-width="0.55">*</text>
<text transform="translate(232.50 245.50) rotate(-90) scale(1.134 1)" font-size="8.20" text-anchor="middle" fill="#231f20" stroke="#231f20" stroke-width="0.15">Normalized fibrin (Aα)/</text>
<text transform="translate(243.80 247.20) rotate(-90) scale(1.074 1)" font-size="8.20" text-anchor="middle" fill="#231f20" stroke="#231f20" stroke-width="0.15">Ly6G ratio relative to WT</text>
<rect x="416.60" y="233.75" width="9.30" height="55.50" fill="#a50026"/>
<rect x="427.03" y="269.75" width="9.30" height="19.50" fill="#d18d7f"/>
<line x1="431.68" y1="269.75" x2="431.68" y2="269.00" stroke="#231f20" stroke-width="0.90"/>
<line x1="430.28" y1="269.00" x2="433.08" y2="269.00" stroke="#231f20" stroke-width="0.90"/>
<rect x="437.46" y="267.00" width="9.30" height="22.25" fill="#bd5551"/>
<line x1="442.11" y1="267.00" x2="442.11" y2="266.30" stroke="#231f20" stroke-width="0.90"/>
<line x1="440.71" y1="266.30" x2="443.51" y2="266.30" stroke="#231f20" stroke-width="0.90"/>
<rect x="447.89" y="264.25" width="9.30" height="25.00" fill="#2b4a7c"/>
<line x1="452.54" y1="264.25" x2="452.54" y2="259.25" stroke="#231f20" stroke-width="0.90"/>
<line x1="451.14" y1="259.25" x2="453.94" y2="259.25" stroke="#231f20" stroke-width="0.90"/>
<rect x="458.32" y="236.75" width="9.30" height="52.50" fill="#8e98c0"/>
<line x1="462.97" y1="236.75" x2="462.97" y2="230.75" stroke="#231f20" stroke-width="0.90"/>
<line x1="461.57" y1="230.75" x2="464.37" y2="230.75" stroke="#231f20" stroke-width="0.90"/>
<rect x="468.75" y="230.00" width="9.30" height="59.25" fill="#6aa83e"/>
<line x1="473.40" y1="230.00" x2="473.40" y2="227.25" stroke="#231f20" stroke-width="0.90"/>
<line x1="472.00" y1="227.25" x2="474.80" y2="227.25" stroke="#231f20" stroke-width="0.90"/>
<rect x="479.18" y="267.50" width="9.30" height="21.75" fill="#b8d498"/>
<line x1="483.83" y1="267.50" x2="483.83" y2="266.30" stroke="#231f20" stroke-width="0.90"/>
<line x1="482.43" y1="266.30" x2="485.23" y2="266.30" stroke="#231f20" stroke-width="0.90"/>
<rect x="489.61" y="268.00" width="9.30" height="21.25" fill="#522364"/>
<line x1="494.26" y1="268.00" x2="494.26" y2="265.50" stroke="#231f20" stroke-width="0.90"/>
<line x1="492.86" y1="265.50" x2="495.66" y2="265.50" stroke="#231f20" stroke-width="0.90"/>
<rect x="500.04" y="237.00" width="9.30" height="52.25" fill="#9a82aa"/>
<line x1="504.69" y1="237.00" x2="504.69" y2="228.25" stroke="#231f20" stroke-width="0.90"/>
<line x1="503.29" y1="228.25" x2="506.09" y2="228.25" stroke="#231f20" stroke-width="0.90"/>
<line x1="415.75" y1="203.00" x2="415.75" y2="289.75" stroke="#231f20" stroke-width="1.00"/>
<line x1="415.25" y1="289.25" x2="513.00" y2="289.25" stroke="#231f20" stroke-width="1.00"/>
<line x1="412.15" y1="289.25" x2="415.75" y2="289.25" stroke="#231f20" stroke-width="0.90"/>
<text transform="translate(409.95 291.70)" font-size="6.80" text-anchor="end" fill="#231f20" stroke="#231f20" stroke-width="0.15">0</text>
<line x1="412.15" y1="261.50" x2="415.75" y2="261.50" stroke="#231f20" stroke-width="0.90"/>
<text transform="translate(409.95 263.95)" font-size="6.80" text-anchor="end" fill="#231f20" stroke="#231f20" stroke-width="0.15">0.5</text>
<line x1="412.15" y1="233.75" x2="415.75" y2="233.75" stroke="#231f20" stroke-width="0.90"/>
<text transform="translate(409.95 236.20)" font-size="6.80" text-anchor="end" fill="#231f20" stroke="#231f20" stroke-width="0.15">1.0</text>
<line x1="412.15" y1="206.00" x2="415.75" y2="206.00" stroke="#231f20" stroke-width="0.90"/>
<text transform="translate(409.95 208.45)" font-size="6.80" text-anchor="end" fill="#231f20" stroke="#231f20" stroke-width="0.15">1.5</text>
<line x1="415.75" y1="289.25" x2="415.75" y2="292.05" stroke="#231f20" stroke-width="0.90"/>
<line x1="426.18" y1="289.25" x2="426.18" y2="292.05" stroke="#231f20" stroke-width="0.90"/>
<line x1="436.61" y1="289.25" x2="436.61" y2="292.05" stroke="#231f20" stroke-width="0.90"/>
<line x1="447.04" y1="289.25" x2="447.04" y2="292.05" stroke="#231f20" stroke-width="0.90"/>
<line x1="457.47" y1="289.25" x2="457.47" y2="292.05" stroke="#231f20" stroke-width="0.90"/>
<line x1="467.90" y1="289.25" x2="467.90" y2="292.05" stroke="#231f20" stroke-width="0.90"/>
<line x1="478.33" y1="289.25" x2="478.33" y2="292.05" stroke="#231f20" stroke-width="0.90"/>
<line x1="488.76" y1="289.25" x2="488.76" y2="292.05" stroke="#231f20" stroke-width="0.90"/>
<line x1="499.19" y1="289.25" x2="499.19" y2="292.05" stroke="#231f20" stroke-width="0.90"/>
<line x1="509.62" y1="289.25" x2="509.62" y2="292.05" stroke="#231f20" stroke-width="0.90"/>
<line x1="421.25" y1="200.75" x2="491.75" y2="200.75" stroke="#55565a" stroke-width="1.25"/>
<text transform="translate(454.00 200.96)" font-size="6.20" text-anchor="middle" fill="#3a3a3c" stroke="#3a3a3c" stroke-width="0.55">*</text>
<line x1="421.25" y1="211.50" x2="450.75" y2="211.50" stroke="#55565a" stroke-width="1.25"/>
<text transform="translate(435.25 211.66)" font-size="6.20" text-anchor="middle" fill="#3a3a3c" stroke="#3a3a3c" stroke-width="0.55">*</text>
<line x1="421.25" y1="221.75" x2="440.75" y2="221.75" stroke="#55565a" stroke-width="1.25"/>
<text transform="translate(431.25 221.91)" font-size="6.20" text-anchor="middle" fill="#3a3a3c" stroke="#3a3a3c" stroke-width="0.55">*</text>
<line x1="421.25" y1="230.75" x2="431.25" y2="230.75" stroke="#55565a" stroke-width="1.25"/>
<text transform="translate(426.50 231.16)" font-size="6.20" text-anchor="middle" fill="#3a3a3c" stroke="#3a3a3c" stroke-width="0.55">*</text>
<line x1="473.75" y1="223.75" x2="483.75" y2="223.75" stroke="#55565a" stroke-width="1.25"/>
<text transform="translate(478.75 223.91)" font-size="6.20" text-anchor="middle" fill="#3a3a3c" stroke="#3a3a3c" stroke-width="0.55">*</text>
<text transform="translate(381.10 246.00) rotate(-90) scale(1.123 1)" font-size="8.20" text-anchor="middle" fill="#231f20" stroke="#231f20" stroke-width="0.15">Normalized citrullinated</text>
<text transform="translate(392.90 246.00) rotate(-90) scale(1.086 1)" font-size="8.20" text-anchor="middle" fill="#231f20" stroke="#231f20" stroke-width="0.15">histone/Ly6G ratio relative to WT</text>
<text transform="translate(105.90 328.80) scale(1.141 1)" font-size="7.00" text-anchor="middle" fill="#231f20" stroke="#231f20" stroke-width="0.15">Anti-citrullinated</text>
<text transform="translate(105.60 338.80) scale(1.099 1)" font-size="7.00" text-anchor="middle" fill="#231f20" stroke="#231f20" stroke-width="0.15">histone</text>
<text transform="translate(182.10 333.80) scale(1.060 1)" font-size="7.00" text-anchor="middle" fill="#231f20" stroke="#231f20" stroke-width="0.15">Sytox-Orange</text>
<text transform="translate(252.60 333.80) scale(1.073 1)" font-size="7.00" text-anchor="middle" fill="#231f20" stroke="#231f20" stroke-width="0.15">Merge</text>
<clipPath id="cg1"><rect x="69.10" y="342.60" width="72.30" height="55.20"/></clipPath>
<rect x="69.10" y="342.60" width="72.30" height="55.20" fill="#010201"/>
<g clip-path="url(#cg1)">
<polygon points="88.00,362.00 95.70,347.40 96.30,347.80 90.40,363.60" fill="#1cf23c" opacity="0.55" filter="url(#b05)"/>
<polygon points="87.20,362.60 92.40,353.60 93.20,354.00 90.80,364.60" fill="#1cf23c" opacity="0.80" filter="url(#b05)"/>
<ellipse cx="88.40" cy="364.80" rx="3.10" ry="3.50" fill="#1cf23c" opacity="1.00" filter="url(#b05)"/>
<ellipse cx="126.90" cy="359.50" rx="4.20" ry="3.70" fill="#1cf23c" opacity="1.00" filter="url(#b05)"/>
<polygon points="128.00,357.00 133.50,358.00 137.40,356.00 135.20,361.40 128.00,362.80" fill="#1cf23c" opacity="1.00" filter="url(#b05)"/>
<ellipse cx="138.40" cy="367.70" rx="3.00" ry="2.50" fill="#1cf23c" opacity="1.00" filter="url(#b05)"/>
<ellipse cx="133.70" cy="373.10" rx="2.20" ry="1.60" fill="#1cf23c" opacity="1.00" filter="url(#b05)"/>
<polygon points="131.80,386.00 133.60,391.20 129.40,390.80" fill="#1cf23c" opacity="1.00" filter="url(#b05)"/>
<ellipse cx="131.50" cy="389.40" rx="1.70" ry="2.00" fill="#1cf23c" opacity="1.00" filter="url(#b05)"/>
<ellipse cx="104.50" cy="366.20" rx="1.40" ry="1.40" fill="#1c9a2c" opacity="1.00" filter="url(#b05)"/>
<circle cx="79.00" cy="393.40" r="1.40" fill="none" stroke="#147a20" stroke-width="0.90" opacity="1.00" filter="url(#b05)"/>
<ellipse cx="88.50" cy="371.50" rx="1.20" ry="1.20" fill="#0a3a10" opacity="1.00" filter="url(#b1)"/>
<ellipse cx="86.80" cy="382.50" rx="1.00" ry="1.00" fill="#072a0b" opacity="1.00" filter="url(#b1)"/>
<rect x="122.2" y="395.0" width="7.2" height="1.4" fill="#cfcfcf" filter="url(#b05)"/>
</g>
<clipPath id="cg2"><rect x="143.40" y="342.60" width="72.80" height="55.20"/></clipPath>
<rect x="143.40" y="342.60" width="72.80" height="55.20" fill="#2b0101"/>
<g clip-path="url(#cg2)">
<polygon points="162.30,360.20 172.90,342.80 173.50,343.20 164.40,361.60" fill="#f4141c" opacity="0.55" filter="url(#b05)"/>
<polygon points="161.70,360.60 167.60,351.00 168.60,351.60 164.80,362.20" fill="#f4141c" opacity="0.80" filter="url(#b05)"/>
<ellipse cx="162.80" cy="362.60" rx="2.50" ry="3.00" fill="#f4141c" opacity="1.00" filter="url(#b05)"/>
<ellipse cx="163.10" cy="368.30" rx="1.70" ry="1.60" fill="#d81016" opacity="1.00" filter="url(#b05)"/>
<ellipse cx="162.30" cy="372.20" rx="1.60" ry="1.50" fill="#7e080c" opacity="1.00" filter="url(#b05)"/>
<circle cx="165.70" cy="375.70" r="1.30" fill="#5a0406" stroke="#8e0a0e" stroke-width="0.80" opacity="1.00" filter="url(#b05)"/>
<ellipse cx="162.80" cy="379.50" rx="1.70" ry="1.70" fill="#8a0a0e" opacity="1.00" filter="url(#b05)"/>
<ellipse cx="178.90" cy="365.20" rx="2.30" ry="2.30" fill="#f4141c" opacity="1.00" filter="url(#b05)"/>
<ellipse cx="188.00" cy="362.30" rx="0.90" ry="2.50" fill="#c21014" opacity="1.00" filter="url(#b05)"/>
<polygon points="208.50,357.00 214.80,350.20 215.60,350.90 211.60,359.00" fill="#b20e12" opacity="0.85" filter="url(#b05)"/>
<ellipse cx="201.40" cy="357.80" rx="5.00" ry="4.00" fill="#f4141c" opacity="1.00" filter="url(#b05)"/>
<ellipse cx="207.50" cy="358.60" rx="4.40" ry="2.80" fill="#f4141c" opacity="1.00" filter="url(#b05)"/>
<ellipse cx="213.50" cy="366.50" rx="2.60" ry="2.20" fill="#d81218" opacity="1.00" filter="url(#b05)"/>
<ellipse cx="208.20" cy="371.40" rx="2.50" ry="2.20" fill="#f4141c" opacity="1.00" filter="url(#b05)"/>
<ellipse cx="191.80" cy="378.00" rx="2.30" ry="1.20" fill="#b20e12" opacity="0.90" filter="url(#b05)" transform="rotate(-20.0 191.80 378.00)"/>
<ellipse cx="205.40" cy="388.00" rx="2.10" ry="2.70" fill="#f4141c" opacity="1.00" filter="url(#b05)"/>
<polygon points="206.00,388.50 210.50,390.40 206.00,390.60" fill="#b20e12" opacity="0.80" filter="url(#b05)"/>
<circle cx="152.30" cy="386.90" r="1.50" fill="#5a0406" stroke="#8e0a0e" stroke-width="0.90" opacity="1.00" filter="url(#b05)"/>
<circle cx="149.50" cy="389.50" r="1.40" fill="#5a0406" stroke="#8e0a0e" stroke-width="0.90" opacity="1.00" filter="url(#b05)"/>
<circle cx="153.40" cy="392.20" r="1.60" fill="#8a080c" stroke="#e01218" stroke-width="1.20" opacity="1.00" filter="url(#b05)"/>
<circle cx="146.90" cy="394.20" r="1.60" fill="#5a0406" stroke="#a80c10" stroke-width="1.00" opacity="1.00" filter="url(#b05)"/>
<circle cx="167.70" cy="391.10" r="1.40" fill="#6a0608" stroke="#b20e12" stroke-width="0.90" opacity="0.90" filter="url(#b05)"/>
<ellipse cx="168.50" cy="396.40" rx="1.50" ry="1.40" fill="#b20e12" opacity="0.90" filter="url(#b05)"/>
<ellipse cx="187.70" cy="397.60" rx="2.00" ry="1.00" fill="#b20e12" opacity="0.80" filter="url(#b05)"/>
</g>
<clipPath id="cg3"><rect x="218.60" y="342.60" width="72.40" height="55.30"/></clipPath>
<rect x="218.60" y="342.60" width="72.40" height="55.30" fill="#260101"/>
<g clip-path="url(#cg3)">
<polygon points="237.50,360.20 248.10,342.80 248.70,343.20 239.60,361.60" fill="#e8141a" opacity="0.55" filter="url(#b05)"/>
<polygon points="236.90,360.60 242.80,351.00 243.80,351.60 240.00,362.20" fill="#e8141a" opacity="0.80" filter="url(#b05)"/>
<ellipse cx="238.00" cy="362.60" rx="2.50" ry="3.00" fill="#e8141a" opacity="1.00" filter="url(#b05)"/>
<ellipse cx="238.30" cy="368.30" rx="1.70" ry="1.60" fill="#d81016" opacity="1.00" filter="url(#b05)"/>
<ellipse cx="237.50" cy="372.20" rx="1.60" ry="1.50" fill="#7e080c" opacity="1.00" filter="url(#b05)"/>
<circle cx="240.90" cy="375.70" r="1.30" fill="#5a0406" stroke="#8e0a0e" stroke-width="0.80" opacity="1.00" filter="url(#b05)"/>
<ellipse cx="238.00" cy="379.50" rx="1.70" ry="1.70" fill="#8a0a0e" opacity="1.00" filter="url(#b05)"/>
<ellipse cx="254.10" cy="365.20" rx="2.30" ry="2.30" fill="#e8141a" opacity="1.00" filter="url(#b05)"/>
<ellipse cx="263.20" cy="362.30" rx="0.90" ry="2.50" fill="#c21014" opacity="1.00" filter="url(#b05)"/>
<polygon points="283.70,357.00 290.00,350.20 290.80,350.90 286.80,359.00" fill="#a40c10" opacity="0.85" filter="url(#b05)"/>
<ellipse cx="276.60" cy="357.80" rx="5.00" ry="4.00" fill="#e8141a" opacity="1.00" filter="url(#b05)"/>
<ellipse cx="282.70" cy="358.60" rx="4.40" ry="2.80" fill="#e8141a" opacity="1.00" filter="url(#b05)"/>
<ellipse cx="288.70" cy="366.50" rx="2.60" ry="2.20" fill="#d81218" opacity="1.00" filter="url(#b05)"/>
<ellipse cx="283.40" cy="371.40" rx="2.50" ry="2.20" fill="#e8141a" opacity="1.00" filter="url(#b05)"/>
<ellipse cx="267.00" cy="378.00" rx="2.30" ry="1.20" fill="#a40c10" opacity="0.90" filter="url(#b05)" transform="rotate(-20.0 267.00 378.00)"/>
<ellipse cx="280.60" cy="388.00" rx="2.10" ry="2.70" fill="#e8141a" opacity="1.00" filter="url(#b05)"/>
<polygon points="281.20,388.50 285.70,390.40 281.20,390.60" fill="#a40c10" opacity="0.80" filter="url(#b05)"/>
<circle cx="227.50" cy="386.90" r="1.50" fill="#5a0406" stroke="#8e0a0e" stroke-width="0.90" opacity="1.00" filter="url(#b05)"/>
<circle cx="224.70" cy="389.50" r="1.40" fill="#5a0406" stroke="#8e0a0e" stroke-width="0.90" opacity="1.00" filter="url(#b05)"/>
<circle cx="228.60" cy="392.20" r="1.60" fill="#8a080c" stroke="#e01218" stroke-width="1.20" opacity="1.00" filter="url(#b05)"/>
<circle cx="222.10" cy="394.20" r="1.60" fill="#5a0406" stroke="#a80c10" stroke-width="1.00" opacity="1.00" filter="url(#b05)"/>
<circle cx="242.90" cy="391.10" r="1.40" fill="#6a0608" stroke="#a40c10" stroke-width="0.90" opacity="0.90" filter="url(#b05)"/>
<ellipse cx="243.70" cy="396.40" rx="1.50" ry="1.40" fill="#a40c10" opacity="0.90" filter="url(#b05)"/>
<ellipse cx="262.90" cy="397.60" rx="2.00" ry="1.00" fill="#a40c10" opacity="0.80" filter="url(#b05)"/>
<polygon points="237.80,360.00 243.60,350.40 244.40,350.90 239.80,361.50" fill="#f08a18" opacity="0.90" filter="url(#b05)"/>
<ellipse cx="238.20" cy="362.40" rx="2.60" ry="3.20" fill="#d6e61e" opacity="1.00" filter="url(#b05)"/>
<ellipse cx="237.40" cy="364.30" rx="2.00" ry="2.00" fill="#4ce426" opacity="1.00" filter="url(#b05)"/>
<ellipse cx="276.50" cy="357.90" rx="3.70" ry="3.10" fill="#f4e41c" opacity="1.00" filter="url(#b05)"/>
<ellipse cx="283.20" cy="358.90" rx="3.20" ry="2.20" fill="#f2b21a" opacity="1.00" filter="url(#b05)"/>
<ellipse cx="288.70" cy="366.50" rx="2.80" ry="2.00" fill="#56e424" opacity="1.00" filter="url(#b05)"/>
<ellipse cx="283.50" cy="371.50" rx="2.30" ry="1.80" fill="#f0de1c" opacity="1.00" filter="url(#b05)"/>
<ellipse cx="280.60" cy="387.40" rx="1.70" ry="2.40" fill="#ecd21c" opacity="1.00" filter="url(#b05)"/>
<ellipse cx="281.60" cy="389.80" rx="1.20" ry="1.00" fill="#5ade24" opacity="1.00" filter="url(#b05)"/>
<line x1="225.50" y1="349.50" x2="232.70" y2="352.74" stroke="#ffffff" stroke-width="1.40"/>
<polygon points="237.30,354.80 229.56,354.94 232.70,352.74 232.27,348.92" fill="#ffffff"/>
<line x1="281.60" y1="344.20" x2="281.55" y2="349.96" stroke="#ffffff" stroke-width="1.40"/>
<polygon points="281.50,355.00 278.26,347.97 281.55,349.96 284.86,348.03" fill="#ffffff"/>
</g>
<rect x="342.10" y="389.00" width="11.70" height="6.00" fill="#a50026"/>
<line x1="347.95" y1="389.00" x2="347.95" y2="387.60" stroke="#231f20" stroke-width="0.90"/>
<line x1="346.55" y1="387.60" x2="349.35" y2="387.60" stroke="#231f20" stroke-width="0.90"/>
<rect x="355.60" y="376.00" width="11.70" height="19.00" fill="#2b4a7c"/>
<line x1="361.45" y1="376.00" x2="361.45" y2="373.60" stroke="#231f20" stroke-width="0.90"/>
<line x1="360.05" y1="373.60" x2="362.85" y2="373.60" stroke="#231f20" stroke-width="0.90"/>
<rect x="369.10" y="387.25" width="11.70" height="7.75" fill="#6eab42"/>
<line x1="374.95" y1="387.25" x2="374.95" y2="385.40" stroke="#231f20" stroke-width="0.90"/>
<line x1="373.55" y1="385.40" x2="376.35" y2="385.40" stroke="#231f20" stroke-width="0.90"/>
<rect x="382.60" y="377.00" width="11.70" height="18.00" fill="#522364"/>
<line x1="388.45" y1="377.00" x2="388.45" y2="375.40" stroke="#231f20" stroke-width="0.90"/>
<line x1="387.05" y1="375.40" x2="389.85" y2="375.40" stroke="#231f20" stroke-width="0.90"/>
<rect x="396.10" y="375.00" width="11.70" height="20.00" fill="#e0911b"/>
<line x1="401.95" y1="375.00" x2="401.95" y2="371.80" stroke="#231f20" stroke-width="0.90"/>
<line x1="400.55" y1="371.80" x2="403.35" y2="371.80" stroke="#231f20" stroke-width="0.90"/>
<rect x="409.60" y="367.50" width="11.70" height="27.50" fill="#356d52"/>
<line x1="415.45" y1="367.50" x2="415.45" y2="364.60" stroke="#231f20" stroke-width="0.90"/>
<line x1="414.05" y1="364.60" x2="416.85" y2="364.60" stroke="#231f20" stroke-width="0.90"/>
<rect x="423.10" y="359.25" width="11.70" height="35.75" fill="#9088c0"/>
<line x1="428.95" y1="359.25" x2="428.95" y2="355.80" stroke="#231f20" stroke-width="0.90"/>
<line x1="427.55" y1="355.80" x2="430.35" y2="355.80" stroke="#231f20" stroke-width="0.90"/>
<rect x="436.60" y="355.75" width="11.70" height="39.25" fill="#4b5169"/>
<line x1="442.45" y1="355.75" x2="442.45" y2="349.60" stroke="#231f20" stroke-width="0.90"/>
<line x1="441.05" y1="349.60" x2="443.85" y2="349.60" stroke="#231f20" stroke-width="0.90"/>
<line x1="341.00" y1="323.25" x2="341.00" y2="395.50" stroke="#231f20" stroke-width="1.00"/>
<line x1="340.50" y1="395.00" x2="452.50" y2="395.00" stroke="#231f20" stroke-width="1.00"/>
<line x1="337.40" y1="395.00" x2="341.00" y2="395.00" stroke="#231f20" stroke-width="0.90"/>
<text transform="translate(335.20 397.45)" font-size="6.80" text-anchor="end" fill="#231f20" stroke="#231f20" stroke-width="0.15">0</text>
<line x1="337.40" y1="381.20" x2="341.00" y2="381.20" stroke="#231f20" stroke-width="0.90"/>
<text transform="translate(335.20 383.65)" font-size="6.80" text-anchor="end" fill="#231f20" stroke="#231f20" stroke-width="0.15">5</text>
<line x1="337.40" y1="367.40" x2="341.00" y2="367.40" stroke="#231f20" stroke-width="0.90"/>
<text transform="translate(335.20 369.85)" font-size="6.80" text-anchor="end" fill="#231f20" stroke="#231f20" stroke-width="0.15">10</text>
<line x1="337.40" y1="353.60" x2="341.00" y2="353.60" stroke="#231f20" stroke-width="0.90"/>
<text transform="translate(335.20 356.05)" font-size="6.80" text-anchor="end" fill="#231f20" stroke="#231f20" stroke-width="0.15">15</text>
<line x1="337.40" y1="339.80" x2="341.00" y2="339.80" stroke="#231f20" stroke-width="0.90"/>
<text transform="translate(335.20 342.25)" font-size="6.80" text-anchor="end" fill="#231f20" stroke="#231f20" stroke-width="0.15">20</text>
<line x1="337.40" y1="326.00" x2="341.00" y2="326.00" stroke="#231f20" stroke-width="0.90"/>
<text transform="translate(335.20 328.45)" font-size="6.80" text-anchor="end" fill="#231f20" stroke="#231f20" stroke-width="0.15">25</text>
<line x1="341.00" y1="395.00" x2="341.00" y2="397.80" stroke="#231f20" stroke-width="0.90"/>
<line x1="354.50" y1="395.00" x2="354.50" y2="397.80" stroke="#231f20" stroke-width="0.90"/>
<line x1="368.00" y1="395.00" x2="368.00" y2="397.80" stroke="#231f20" stroke-width="0.90"/>
<line x1="381.50" y1="395.00" x2="381.50" y2="397.80" stroke="#231f20" stroke-width="0.90"/>
<line x1="395.00" y1="395.00" x2="395.00" y2="397.80" stroke="#231f20" stroke-width="0.90"/>
<line x1="408.50" y1="395.00" x2="408.50" y2="397.80" stroke="#231f20" stroke-width="0.90"/>
<line x1="422.00" y1="395.00" x2="422.00" y2="397.80" stroke="#231f20" stroke-width="0.90"/>
<line x1="435.50" y1="395.00" x2="435.50" y2="397.80" stroke="#231f20" stroke-width="0.90"/>
<line x1="449.00" y1="395.00" x2="449.00" y2="397.80" stroke="#231f20" stroke-width="0.90"/>
<line x1="362.00" y1="350.75" x2="428.00" y2="350.75" stroke="#55565a" stroke-width="1.25"/>
<text transform="translate(394.50 349.76)" font-size="6.20" text-anchor="middle" fill="#3a3a3c" stroke="#3a3a3c" stroke-width="0.55">*</text>
<line x1="362.00" y1="360.50" x2="414.50" y2="360.50" stroke="#55565a" stroke-width="1.25"/>
<text transform="translate(388.25 360.66)" font-size="6.20" text-anchor="middle" fill="#3a3a3c" stroke="#3a3a3c" stroke-width="0.55">*</text>
<text transform="translate(309.60 359.00) rotate(-90) scale(1.082 1)" font-size="8.20" text-anchor="middle" fill="#231f20" stroke="#231f20" stroke-width="0.15">NET-forming cells</text>
<text transform="translate(320.70 359.80) rotate(-90) scale(1.013 1)" font-size="8.20" text-anchor="middle" fill="#231f20" stroke="#231f20" stroke-width="0.15">per field (%)</text>
<text transform="translate(333.70 407.70) scale(1.020 1)" font-size="6.90" text-anchor="start" fill="#231f20" stroke="#231f20" stroke-width="0.15">CD45</text>
<text transform="translate(437.50 407.70) scale(1.030 1)" font-size="6.90" text-anchor="start" fill="#231f20" stroke="#231f20" stroke-width="0.15">PMA</text>
<text transform="translate(342.50 417.40) scale(1.052 1)" font-size="6.90" text-anchor="end" fill="#231f20" stroke="#231f20" stroke-width="0.15">P-selectin:</text>
<text transform="translate(343.70 427.00) scale(0.944 1)" font-size="6.90" text-anchor="end" fill="#231f20" stroke="#231f20" stroke-width="0.15">CXCL1:</text>
<text transform="translate(342.30 436.60) scale(1.062 1)" font-size="6.90" text-anchor="end" fill="#231f20" stroke="#231f20" stroke-width="0.15">(ng/ml)</text>
<line x1="354.50" y1="415.25" x2="367.00" y2="415.25" stroke="#55565a" stroke-width="1.10"/>
<line x1="408.00" y1="415.25" x2="433.75" y2="415.25" stroke="#55565a" stroke-width="1.10"/>
<line x1="367.50" y1="423.50" x2="380.00" y2="423.50" stroke="#55565a" stroke-width="1.10"/>
<text transform="translate(378.50 429.40) rotate(-45) scale(0.950 1)" font-size="6.90" text-anchor="end" fill="#231f20" stroke="#231f20" stroke-width="0.15">20</text>
<line x1="381.50" y1="423.50" x2="393.75" y2="423.50" stroke="#55565a" stroke-width="1.10"/>
<text transform="translate(392.25 429.40) rotate(-45) scale(0.950 1)" font-size="6.90" text-anchor="end" fill="#231f20" stroke="#231f20" stroke-width="0.15">200</text>
<line x1="395.30" y1="423.50" x2="407.30" y2="423.50" stroke="#55565a" stroke-width="1.10"/>
<text transform="translate(405.80 429.40) rotate(-45) scale(0.950 1)" font-size="6.90" text-anchor="end" fill="#231f20" stroke="#231f20" stroke-width="0.15">500</text>
<line x1="409.50" y1="423.50" x2="421.75" y2="423.50" stroke="#55565a" stroke-width="1.10"/>
<text transform="translate(420.25 429.40) rotate(-45) scale(0.950 1)" font-size="6.90" text-anchor="end" fill="#231f20" stroke="#231f20" stroke-width="0.15">20</text>
<line x1="423.25" y1="423.50" x2="435.75" y2="423.50" stroke="#55565a" stroke-width="1.10"/>
<text transform="translate(434.25 429.40) rotate(-45) scale(0.950 1)" font-size="6.90" text-anchor="end" fill="#231f20" stroke="#231f20" stroke-width="0.15">200</text>
<rect x="131.60" y="550.00" width="12.80" height="30.00" fill="#a50026"/>
<line x1="138.00" y1="550.00" x2="138.00" y2="545.40" stroke="#231f20" stroke-width="0.90"/>
<line x1="136.60" y1="545.40" x2="139.40" y2="545.40" stroke="#231f20" stroke-width="0.90"/>
<rect x="146.53" y="574.00" width="12.80" height="6.00" fill="#d18d7f"/>
<line x1="152.93" y1="574.00" x2="152.93" y2="571.60" stroke="#231f20" stroke-width="0.90"/>
<line x1="151.53" y1="571.60" x2="154.33" y2="571.60" stroke="#231f20" stroke-width="0.90"/>
<rect x="161.46" y="552.25" width="12.80" height="27.75" fill="#bd5551"/>
<line x1="167.86" y1="552.25" x2="167.86" y2="548.60" stroke="#231f20" stroke-width="0.90"/>
<line x1="166.46" y1="548.60" x2="169.26" y2="548.60" stroke="#231f20" stroke-width="0.90"/>
<rect x="176.39" y="555.25" width="12.80" height="24.75" fill="#2b4a7c"/>
<line x1="182.79" y1="555.25" x2="182.79" y2="552.40" stroke="#231f20" stroke-width="0.90"/>
<line x1="181.39" y1="552.40" x2="184.19" y2="552.40" stroke="#231f20" stroke-width="0.90"/>
<rect x="191.32" y="556.75" width="12.80" height="23.25" fill="#8e98c0"/>
<line x1="197.72" y1="556.75" x2="197.72" y2="554.40" stroke="#231f20" stroke-width="0.90"/>
<line x1="196.32" y1="554.40" x2="199.12" y2="554.40" stroke="#231f20" stroke-width="0.90"/>
<rect x="206.25" y="553.25" width="12.80" height="26.75" fill="#6aa83e"/>
<line x1="212.65" y1="553.25" x2="212.65" y2="548.20" stroke="#231f20" stroke-width="0.90"/>
<line x1="211.25" y1="548.20" x2="214.05" y2="548.20" stroke="#231f20" stroke-width="0.90"/>
<rect x="221.18" y="574.25" width="12.80" height="5.75" fill="#b8d498"/>
<line x1="227.58" y1="574.25" x2="227.58" y2="572.20" stroke="#231f20" stroke-width="0.90"/>
<line x1="226.18" y1="572.20" x2="228.98" y2="572.20" stroke="#231f20" stroke-width="0.90"/>
<rect x="236.11" y="572.50" width="12.80" height="7.50" fill="#522364"/>
<line x1="242.51" y1="572.50" x2="242.51" y2="570.40" stroke="#231f20" stroke-width="0.90"/>
<line x1="241.11" y1="570.40" x2="243.91" y2="570.40" stroke="#231f20" stroke-width="0.90"/>
<rect x="251.04" y="559.25" width="12.80" height="20.75" fill="#9a82aa"/>
<line x1="257.44" y1="559.25" x2="257.44" y2="556.60" stroke="#231f20" stroke-width="0.90"/>
<line x1="256.04" y1="556.60" x2="258.84" y2="556.60" stroke="#231f20" stroke-width="0.90"/>
<rect x="271.00" y="525.25" width="12.80" height="54.75" fill="#a50026"/>
<line x1="277.40" y1="525.25" x2="277.40" y2="518.80" stroke="#231f20" stroke-width="0.90"/>
<line x1="276.00" y1="518.80" x2="278.80" y2="518.80" stroke="#231f20" stroke-width="0.90"/>
<rect x="285.93" y="553.00" width="12.80" height="27.00" fill="#d18d7f"/>
<line x1="292.33" y1="553.00" x2="292.33" y2="548.60" stroke="#231f20" stroke-width="0.90"/>
<line x1="290.93" y1="548.60" x2="293.73" y2="548.60" stroke="#231f20" stroke-width="0.90"/>
<rect x="300.86" y="556.50" width="12.80" height="23.50" fill="#bd5551"/>
<line x1="307.26" y1="556.50" x2="307.26" y2="553.40" stroke="#231f20" stroke-width="0.90"/>
<line x1="305.86" y1="553.40" x2="308.66" y2="553.40" stroke="#231f20" stroke-width="0.90"/>
<rect x="315.79" y="524.75" width="12.80" height="55.25" fill="#2b4a7c"/>
<line x1="322.19" y1="524.75" x2="322.19" y2="520.60" stroke="#231f20" stroke-width="0.90"/>
<line x1="320.79" y1="520.60" x2="323.59" y2="520.60" stroke="#231f20" stroke-width="0.90"/>
<rect x="330.72" y="521.50" width="12.80" height="58.50" fill="#8e98c0"/>
<line x1="337.12" y1="521.50" x2="337.12" y2="517.00" stroke="#231f20" stroke-width="0.90"/>
<line x1="335.72" y1="517.00" x2="338.52" y2="517.00" stroke="#231f20" stroke-width="0.90"/>
<rect x="345.65" y="523.75" width="12.80" height="56.25" fill="#6aa83e"/>
<line x1="352.05" y1="523.75" x2="352.05" y2="517.60" stroke="#231f20" stroke-width="0.90"/>
<line x1="350.65" y1="517.60" x2="353.45" y2="517.60" stroke="#231f20" stroke-width="0.90"/>
<rect x="360.58" y="557.25" width="12.80" height="22.75" fill="#b8d498"/>
<line x1="366.98" y1="557.25" x2="366.98" y2="553.40" stroke="#231f20" stroke-width="0.90"/>
<line x1="365.58" y1="553.40" x2="368.38" y2="553.40" stroke="#231f20" stroke-width="0.90"/>
<rect x="375.51" y="550.00" width="12.80" height="30.00" fill="#522364"/>
<line x1="381.91" y1="550.00" x2="381.91" y2="546.80" stroke="#231f20" stroke-width="0.90"/>
<line x1="380.51" y1="546.80" x2="383.31" y2="546.80" stroke="#231f20" stroke-width="0.90"/>
<rect x="390.44" y="525.50" width="12.80" height="54.50" fill="#9a82aa"/>
<line x1="396.84" y1="525.50" x2="396.84" y2="519.80" stroke="#231f20" stroke-width="0.90"/>
<line x1="395.44" y1="519.80" x2="398.24" y2="519.80" stroke="#231f20" stroke-width="0.90"/>
<line x1="130.25" y1="487.50" x2="130.25" y2="580.50" stroke="#231f20" stroke-width="1.00"/>
<line x1="129.75" y1="580.00" x2="407.50" y2="580.00" stroke="#231f20" stroke-width="1.00"/>
<line x1="126.90" y1="580.00" x2="130.25" y2="580.00" stroke="#231f20" stroke-width="0.90"/>
<text transform="translate(124.20 582.45)" font-size="6.80" text-anchor="end" fill="#231f20" stroke="#231f20" stroke-width="0.15">0</text>
<line x1="126.90" y1="562.00" x2="130.25" y2="562.00" stroke="#231f20" stroke-width="0.90"/>
<text transform="translate(124.20 564.45)" font-size="6.80" text-anchor="end" fill="#231f20" stroke="#231f20" stroke-width="0.15">5</text>
<line x1="126.90" y1="544.00" x2="130.25" y2="544.00" stroke="#231f20" stroke-width="0.90"/>
<text transform="translate(124.20 546.45)" font-size="6.80" text-anchor="end" fill="#231f20" stroke="#231f20" stroke-width="0.15">10</text>
<line x1="126.90" y1="526.00" x2="130.25" y2="526.00" stroke="#231f20" stroke-width="0.90"/>
<text transform="translate(124.20 528.45)" font-size="6.80" text-anchor="end" fill="#231f20" stroke="#231f20" stroke-width="0.15">15</text>
<line x1="126.90" y1="508.00" x2="130.25" y2="508.00" stroke="#231f20" stroke-width="0.90"/>
<text transform="translate(124.20 510.45)" font-size="6.80" text-anchor="end" fill="#231f20" stroke="#231f20" stroke-width="0.15">20</text>
<line x1="126.90" y1="490.00" x2="130.25" y2="490.00" stroke="#231f20" stroke-width="0.90"/>
<text transform="translate(124.20 492.45)" font-size="6.80" text-anchor="end" fill="#231f20" stroke="#231f20" stroke-width="0.15">25</text>
<line x1="130.50" y1="580.00" x2="130.50" y2="582.80" stroke="#231f20" stroke-width="0.90"/>
<line x1="145.43" y1="580.00" x2="145.43" y2="582.80" stroke="#231f20" stroke-width="0.90"/>
<line x1="160.36" y1="580.00" x2="160.36" y2="582.80" stroke="#231f20" stroke-width="0.90"/>
<line x1="175.29" y1="580.00" x2="175.29" y2="582.80" stroke="#231f20" stroke-width="0.90"/>
<line x1="190.22" y1="580.00" x2="190.22" y2="582.80" stroke="#231f20" stroke-width="0.90"/>
<line x1="205.15" y1="580.00" x2="205.15" y2="582.80" stroke="#231f20" stroke-width="0.90"/>
<line x1="220.08" y1="580.00" x2="220.08" y2="582.80" stroke="#231f20" stroke-width="0.90"/>
<line x1="235.01" y1="580.00" x2="235.01" y2="582.80" stroke="#231f20" stroke-width="0.90"/>
<line x1="249.94" y1="580.00" x2="249.94" y2="582.80" stroke="#231f20" stroke-width="0.90"/>
<line x1="264.87" y1="580.00" x2="264.87" y2="582.80" stroke="#231f20" stroke-width="0.90"/>
<line x1="270.00" y1="580.00" x2="270.00" y2="582.80" stroke="#231f20" stroke-width="0.90"/>
<line x1="284.93" y1="580.00" x2="284.93" y2="582.80" stroke="#231f20" stroke-width="0.90"/>
<line x1="299.86" y1="580.00" x2="299.86" y2="582.80" stroke="#231f20" stroke-width="0.90"/>
<line x1="314.79" y1="580.00" x2="314.79" y2="582.80" stroke="#231f20" stroke-width="0.90"/>
<line x1="329.72" y1="580.00" x2="329.72" y2="582.80" stroke="#231f20" stroke-width="0.90"/>
<line x1="344.65" y1="580.00" x2="344.65" y2="582.80" stroke="#231f20" stroke-width="0.90"/>
<line x1="359.58" y1="580.00" x2="359.58" y2="582.80" stroke="#231f20" stroke-width="0.90"/>
<line x1="374.51" y1="580.00" x2="374.51" y2="582.80" stroke="#231f20" stroke-width="0.90"/>
<line x1="389.44" y1="580.00" x2="389.44" y2="582.80" stroke="#231f20" stroke-width="0.90"/>
<line x1="404.37" y1="580.00" x2="404.37" y2="582.80" stroke="#231f20" stroke-width="0.90"/>
<line x1="138.00" y1="532.75" x2="240.25" y2="532.75" stroke="#55565a" stroke-width="1.25"/>
<text transform="translate(185.00 532.96)" font-size="6.20" text-anchor="middle" fill="#3a3a3c" stroke="#3a3a3c" stroke-width="0.55">*</text>
<line x1="138.00" y1="543.25" x2="151.50" y2="543.25" stroke="#55565a" stroke-width="1.25"/>
<text transform="translate(144.75 543.16)" font-size="6.20" text-anchor="middle" fill="#3a3a3c" stroke="#3a3a3c" stroke-width="0.55">*</text>
<line x1="212.50" y1="546.50" x2="225.75" y2="546.50" stroke="#55565a" stroke-width="1.25"/>
<text transform="translate(219.00 546.46)" font-size="6.20" text-anchor="middle" fill="#3a3a3c" stroke="#3a3a3c" stroke-width="0.55">*</text>
<line x1="277.50" y1="502.50" x2="378.75" y2="502.50" stroke="#55565a" stroke-width="1.25"/>
<text transform="translate(326.50 502.16)" font-size="6.20" text-anchor="middle" fill="#3a3a3c" stroke="#3a3a3c" stroke-width="0.55">*</text>
<line x1="277.50" y1="510.25" x2="305.00" y2="510.25" stroke="#55565a" stroke-width="1.25"/>
<text transform="translate(291.25 510.16)" font-size="6.20" text-anchor="middle" fill="#3a3a3c" stroke="#3a3a3c" stroke-width="0.55">*</text>
<line x1="277.50" y1="517.00" x2="290.00" y2="517.00" stroke="#55565a" stroke-width="1.25"/>
<text transform="translate(284.25 516.66)" font-size="6.20" text-anchor="middle" fill="#3a3a3c" stroke="#3a3a3c" stroke-width="0.55">*</text>
<line x1="351.25" y1="514.75" x2="365.50" y2="514.75" stroke="#55565a" stroke-width="1.25"/>
<text transform="translate(358.25 514.96)" font-size="6.20" text-anchor="middle" fill="#3a3a3c" stroke="#3a3a3c" stroke-width="0.55">*</text>
<text transform="translate(110.20 531.80) rotate(-90) scale(1.057 1)" font-size="8.20" text-anchor="middle" fill="#231f20" stroke="#231f20" stroke-width="0.15">NET-forming cells per field (%)</text>
<text transform="translate(127.60 596.70) scale(1.074 1)" font-size="6.90" text-anchor="end" fill="#231f20" stroke="#231f20" stroke-width="0.15">P-selectin:</text>
<text transform="translate(127.60 605.70) scale(0.977 1)" font-size="6.90" text-anchor="end" fill="#231f20" stroke="#231f20" stroke-width="0.15">CXCL1:</text>
<text transform="translate(134.80 616.10) scale(1.120 1)" font-size="6.90" text-anchor="end" fill="#231f20" stroke="#231f20" stroke-width="0.15">(200 ng/ml)</text>
<line x1="130.50" y1="594.50" x2="403.25" y2="594.50" stroke="#333333" stroke-width="1.20"/>
<line x1="272.50" y1="605.30" x2="403.25" y2="605.30" stroke="#333333" stroke-width="1.20"/>
<rect x="135.10" y="462.20" width="7.90" height="7.60" fill="#a50026"/>
<text transform="translate(146.20 468.90) scale(0.965 1)" font-size="6.80" text-anchor="start" fill="#231f20" stroke="#231f20" stroke-width="0.15">WT</text>
<rect x="167.00" y="462.20" width="7.90" height="7.60" fill="#d18d7f"/>
<text transform="translate(178.00 468.90) scale(1.059 1)" font-size="6.80" text-anchor="start" fill="#231f20" stroke="#231f20" stroke-width="0.15">Selplg<tspan dy="-2.86" font-size="4.49" stroke-width="0.05">-/-</tspan></text>
<rect x="213.70" y="462.20" width="7.90" height="7.60" fill="#bd5551"/>
<text transform="translate(224.50 468.90) scale(1.028 1)" font-size="6.80" text-anchor="start" fill="#231f20" stroke="#231f20" stroke-width="0.15">Cxcr2<tspan dy="-2.86" font-size="4.49" stroke-width="0.05">-/-</tspan></text>
<rect x="258.30" y="462.20" width="7.90" height="7.60" fill="#2b4a7c"/>
<text transform="translate(269.90 468.90) scale(1.116 1)" font-size="6.80" text-anchor="start" fill="#231f20" stroke="#231f20" stroke-width="0.15">Itgb2<tspan dy="-2.86" font-size="4.49" stroke-width="0.05">-/-</tspan></text>
<rect x="302.40" y="462.20" width="7.90" height="7.60" fill="#8e98c0"/>
<text transform="translate(313.90 468.90) scale(1.002 1)" font-size="6.80" text-anchor="start" fill="#231f20" stroke="#231f20" stroke-width="0.15">Sell<tspan dy="-2.86" font-size="4.49" stroke-width="0.05">-/-</tspan></text>
<rect x="340.20" y="462.20" width="7.90" height="7.60" fill="#6aa83e"/>
<text transform="translate(351.40 468.90) scale(0.981 1)" font-size="6.80" text-anchor="start" fill="#231f20" stroke="#231f20" stroke-width="0.15">Lcp2<tspan dy="-2.86" font-size="4.49" stroke-width="0.05">fl/fl</tspan><tspan dy="2.86">LysMCre</tspan><tspan dy="-2.86" font-size="4.49" stroke-width="0.05">-</tspan></text>
<rect x="135.10" y="475.50" width="7.90" height="7.60" fill="#b8d498"/>
<text transform="translate(146.20 482.20) scale(0.987 1)" font-size="6.80" text-anchor="start" fill="#231f20" stroke="#231f20" stroke-width="0.15">Lcp2<tspan dy="-2.86" font-size="4.49" stroke-width="0.05">fl/fl</tspan><tspan dy="2.86">LysMCre</tspan><tspan dy="-2.86" font-size="4.49" stroke-width="0.05">+</tspan></text>
<rect x="209.50" y="475.50" width="7.90" height="7.60" fill="#522364"/>
<text transform="translate(220.60 482.20) scale(0.951 1)" font-size="6.80" text-anchor="start" fill="#231f20" stroke="#231f20" stroke-width="0.15">Lcp2<tspan dy="-2.86" font-size="4.49" stroke-width="0.05">Y145F</tspan></text>
<rect x="260.20" y="475.50" width="7.90" height="7.60" fill="#9a82aa"/>
<text transform="translate(271.60 482.20) scale(1.056 1)" font-size="6.80" text-anchor="start" fill="#231f20" stroke="#231f20" stroke-width="0.15">Lcp2<tspan dy="-2.86" font-size="4.49" stroke-width="0.05">Y112/128F</tspan></text>
<rect x="0.00" y="0.00" width="520.00" height="1.20" fill="#050505"/>
<rect x="0.00" y="0.00" width="1.45" height="625.00" fill="#2a2a2a"/>
<rect x="518.80" y="0.00" width="1.20" height="625.00" fill="#050505"/>
<rect x="0.00" y="623.80" width="520.00" height="1.20" fill="#0a0a0a"/>
</svg>
</body></html>
